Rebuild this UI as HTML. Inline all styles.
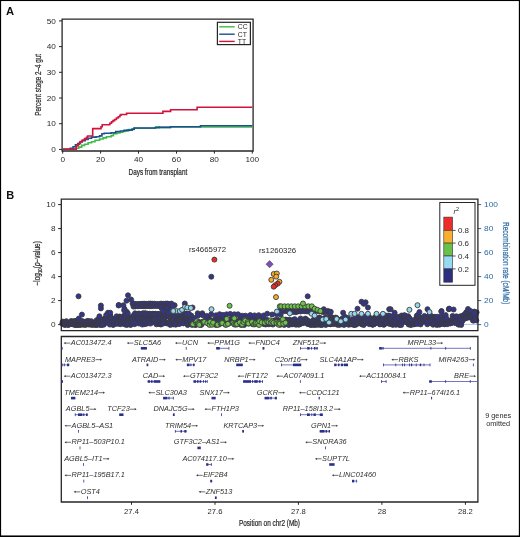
<!DOCTYPE html>
<html><head><meta charset="utf-8"><style>
html,body{margin:0;padding:0;background:#fff;}
svg{display:block;font-family:"Liberation Sans", sans-serif;will-change:transform;}
</style></head><body>
<svg width="520" height="537" viewBox="0 0 520 537">
<rect width="520" height="537" fill="#fff"/>
<text x="6.1" y="14.8" font-size="11.2" font-weight="bold" fill="#111">A</text>
<path d="M62.1,19.2 H253.1 V151.0 H62.1 Z" fill="none" stroke="#262626" stroke-width="1.3"/>
<line x1="59" y1="149.4" x2="62.1" y2="149.4" stroke="#262626" stroke-width="1"/>
<text x="51.33" y="152.15" font-size="7.9" textLength="4.57" lengthAdjust="spacingAndGlyphs" fill="#2a2a2a">0</text>
<line x1="59" y1="123.7" x2="62.1" y2="123.7" stroke="#262626" stroke-width="1"/>
<text x="46.76" y="126.45" font-size="7.9" textLength="9.14" lengthAdjust="spacingAndGlyphs" fill="#2a2a2a">10</text>
<line x1="59" y1="98.0" x2="62.1" y2="98.0" stroke="#262626" stroke-width="1"/>
<text x="46.76" y="100.75" font-size="7.9" textLength="9.14" lengthAdjust="spacingAndGlyphs" fill="#2a2a2a">20</text>
<line x1="59" y1="72.3" x2="62.1" y2="72.3" stroke="#262626" stroke-width="1"/>
<text x="46.76" y="75.05" font-size="7.9" textLength="9.14" lengthAdjust="spacingAndGlyphs" fill="#2a2a2a">30</text>
<line x1="59" y1="46.6" x2="62.1" y2="46.6" stroke="#262626" stroke-width="1"/>
<text x="46.76" y="49.35" font-size="7.9" textLength="9.14" lengthAdjust="spacingAndGlyphs" fill="#2a2a2a">40</text>
<line x1="59" y1="20.9" x2="62.1" y2="20.9" stroke="#262626" stroke-width="1"/>
<text x="46.76" y="23.65" font-size="7.9" textLength="9.14" lengthAdjust="spacingAndGlyphs" fill="#2a2a2a">50</text>
<line x1="62.7" y1="151.0" x2="62.7" y2="153.6" stroke="#262626" stroke-width="1"/>
<text x="60.42" y="162.20" font-size="7.9" textLength="4.57" lengthAdjust="spacingAndGlyphs" fill="#2a2a2a">0</text>
<line x1="100.6" y1="151.0" x2="100.6" y2="153.6" stroke="#262626" stroke-width="1"/>
<text x="96.05" y="162.20" font-size="7.9" textLength="9.14" lengthAdjust="spacingAndGlyphs" fill="#2a2a2a">20</text>
<line x1="138.5" y1="151.0" x2="138.5" y2="153.6" stroke="#262626" stroke-width="1"/>
<text x="133.97" y="162.20" font-size="7.9" textLength="9.14" lengthAdjust="spacingAndGlyphs" fill="#2a2a2a">40</text>
<line x1="176.5" y1="151.0" x2="176.5" y2="153.6" stroke="#262626" stroke-width="1"/>
<text x="171.89" y="162.20" font-size="7.9" textLength="9.14" lengthAdjust="spacingAndGlyphs" fill="#2a2a2a">60</text>
<line x1="214.4" y1="151.0" x2="214.4" y2="153.6" stroke="#262626" stroke-width="1"/>
<text x="209.81" y="162.20" font-size="7.9" textLength="9.14" lengthAdjust="spacingAndGlyphs" fill="#2a2a2a">80</text>
<line x1="252.3" y1="151.0" x2="252.3" y2="153.6" stroke="#262626" stroke-width="1"/>
<text x="245.45" y="162.20" font-size="7.9" textLength="13.71" lengthAdjust="spacingAndGlyphs" fill="#2a2a2a">100</text>
<text x="128.6" y="174.8" font-size="8.4" textLength="58.6" lengthAdjust="spacingAndGlyphs" fill="#2a2a2a" stroke="#2a2a2a" stroke-width="0.22">Days from transplant</text>
<text transform="translate(40.5,115.8) rotate(-90)" font-size="8.4" textLength="61.8" lengthAdjust="spacingAndGlyphs" fill="#2a2a2a" stroke="#2a2a2a" stroke-width="0.22">Percent stage 2–4 gut</text>
<path d="M62.7,149.2 H74.8 V148.2 H78.8 V147.1 H81.7 V145.4 H84.6 V144.2 H88.1 V142.8 H91.5 V141.7 H95 V140.2 H99.6 V139 H103.1 V137.9 H106.5 V136.7 H111.1 V135.6 H113.4 V133.8 H116.9 V132.9 H120 V132.2 H122.7 V131.5 H125 V131 H128.5 V129.5 H134 V128.3 H155.7 V126.8 H159 V127.4 H170.5 V127 H252.5" fill="none" stroke="#3dbb45" stroke-width="1.6"/>
<path d="M62.7,149.2 H70.2 V148.3 H73.1 V146.8 H75.4 V144.8 H77.7 V143.6 H80 V141.9 H82.3 V140.8 H85.2 V139.4 H88.1 V138.2 H91.5 V137.1 H96.1 V136.7 H99.6 V135.9 H101.9 V133.8 H104.2 V133.3 H111.1 V132.7 H115.7 V131.5 H120.4 V131 H124 V130.4 H126.7 V130.1 H132.1 V129.1 H134.1 V128 H155 V127.8 H159 V127.4 H170.5 V126.7 H200.5 V125.7 H252.5" fill="none" stroke="#1c4f91" stroke-width="1.6"/>
<path d="M62.7,149.2 H76.3 V146 H78 V144.5 H79.3 V143 H80.5 V141.5 H82.3 V140 H84.5 V138.6 H86.5 V137.2 H87.6 V136 H92.7 V128.6 H101 V126.8 H102.2 V124.8 H109.8 V123.2 H111.5 V121.8 H113 V120.6 H114.6 V119.5 H116.4 V118 H118.3 V116.8 H119.9 V115.2 H121 V114.5 H126.6 V113.3 H162.9 V111.4 H170.6 V109.8 H197.1 V107.2 H252.5" fill="none" stroke="#d2123a" stroke-width="1.6"/>
<rect x="217.4" y="22.3" width="33" height="22.3" fill="#fff" stroke="#262626" stroke-width="1.2"/>
<line x1="219.2" y1="26.8" x2="234.7" y2="26.8" stroke="#3dbb45" stroke-width="1.4"/>
<text x="237.8" y="29.2" font-size="6.8" fill="#2a2a2a">CC</text>
<line x1="219.2" y1="34.2" x2="234.7" y2="34.2" stroke="#1c4f91" stroke-width="1.4"/>
<text x="237.8" y="36.6" font-size="6.8" fill="#2a2a2a">CT</text>
<line x1="219.2" y1="41.4" x2="234.7" y2="41.4" stroke="#d2123a" stroke-width="1.4"/>
<text x="237.8" y="43.8" font-size="6.8" fill="#2a2a2a">TT</text>
<text x="6.3" y="199.3" font-size="11" font-weight="bold" fill="#111">B</text>
<line x1="58.1" y1="324.6" x2="61.3" y2="324.6" stroke="#262626" stroke-width="1"/>
<text x="50.93" y="327.35" font-size="7.9" textLength="4.57" lengthAdjust="spacingAndGlyphs" fill="#2a2a2a">0</text>
<line x1="58.1" y1="300.6" x2="61.3" y2="300.6" stroke="#262626" stroke-width="1"/>
<text x="50.93" y="303.35" font-size="7.9" textLength="4.57" lengthAdjust="spacingAndGlyphs" fill="#2a2a2a">2</text>
<line x1="58.1" y1="276.6" x2="61.3" y2="276.6" stroke="#262626" stroke-width="1"/>
<text x="50.93" y="279.35" font-size="7.9" textLength="4.57" lengthAdjust="spacingAndGlyphs" fill="#2a2a2a">4</text>
<line x1="58.1" y1="252.6" x2="61.3" y2="252.6" stroke="#262626" stroke-width="1"/>
<text x="50.93" y="255.35" font-size="7.9" textLength="4.57" lengthAdjust="spacingAndGlyphs" fill="#2a2a2a">6</text>
<line x1="58.1" y1="228.6" x2="61.3" y2="228.6" stroke="#262626" stroke-width="1"/>
<text x="50.93" y="231.35" font-size="7.9" textLength="4.57" lengthAdjust="spacingAndGlyphs" fill="#2a2a2a">8</text>
<line x1="58.1" y1="204.6" x2="61.3" y2="204.6" stroke="#262626" stroke-width="1"/>
<text x="46.36" y="207.35" font-size="7.9" textLength="9.14" lengthAdjust="spacingAndGlyphs" fill="#2a2a2a">10</text>
<line x1="477.9" y1="324.6" x2="481.2" y2="324.6" stroke="#2c6aa3" stroke-width="1"/>
<text x="484.00" y="327.35" font-size="7.9" textLength="4.66" lengthAdjust="spacingAndGlyphs" fill="#2c6aa3">0</text>
<line x1="477.9" y1="300.6" x2="481.2" y2="300.6" stroke="#2c6aa3" stroke-width="1"/>
<text x="484.00" y="303.35" font-size="7.9" textLength="9.31" lengthAdjust="spacingAndGlyphs" fill="#2c6aa3">20</text>
<line x1="477.9" y1="276.6" x2="481.2" y2="276.6" stroke="#2c6aa3" stroke-width="1"/>
<text x="484.00" y="279.35" font-size="7.9" textLength="9.31" lengthAdjust="spacingAndGlyphs" fill="#2c6aa3">40</text>
<line x1="477.9" y1="252.6" x2="481.2" y2="252.6" stroke="#2c6aa3" stroke-width="1"/>
<text x="484.00" y="255.35" font-size="7.9" textLength="9.31" lengthAdjust="spacingAndGlyphs" fill="#2c6aa3">60</text>
<line x1="477.9" y1="228.6" x2="481.2" y2="228.6" stroke="#2c6aa3" stroke-width="1"/>
<text x="484.00" y="231.35" font-size="7.9" textLength="9.31" lengthAdjust="spacingAndGlyphs" fill="#2c6aa3">80</text>
<line x1="477.9" y1="204.6" x2="481.2" y2="204.6" stroke="#2c6aa3" stroke-width="1"/>
<text x="484.00" y="207.35" font-size="7.9" textLength="13.97" lengthAdjust="spacingAndGlyphs" fill="#2c6aa3">100</text>
<text transform="translate(503.1,222) rotate(90)" font-size="9" textLength="82.4" lengthAdjust="spacingAndGlyphs" fill="#2c6aa3" stroke="#2c6aa3" stroke-width="0.22">Recombination rate (cM/Mb)</text>
<text transform="translate(40.0,285.4) rotate(-90)" font-size="8.4" textLength="44.2" lengthAdjust="spacingAndGlyphs" fill="#2a2a2a" stroke="#2a2a2a" stroke-width="0.22">−log<tspan font-size="5.6" dy="1.5">10</tspan><tspan dy="-1.5">(</tspan><tspan font-style="italic">p</tspan>−value)</text>
<path d="M61.3,324.4 H477.9" stroke="#94b6e4" stroke-width="0.8" fill="none"/>
<g stroke="#3b3b3b" stroke-width="0.9">
<circle cx="62.3" cy="323.6" r="2.5" fill="#34358e"/>
<circle cx="62.8" cy="321.6" r="2.5" fill="#34358e"/>
<circle cx="63.3" cy="323.4" r="2.5" fill="#34358e"/>
<circle cx="63.9" cy="324.6" r="2.5" fill="#34358e"/>
<circle cx="64.4" cy="322.9" r="2.5" fill="#34358e"/>
<circle cx="65.0" cy="324.8" r="2.5" fill="#34358e"/>
<circle cx="65.4" cy="324.8" r="2.5" fill="#34358e"/>
<circle cx="66.1" cy="322.6" r="2.5" fill="#34358e"/>
<circle cx="66.3" cy="321.2" r="2.5" fill="#34358e"/>
<circle cx="67.1" cy="322.8" r="2.5" fill="#34358e"/>
<circle cx="67.6" cy="324.6" r="2.5" fill="#34358e"/>
<circle cx="67.9" cy="323.3" r="2.5" fill="#34358e"/>
<circle cx="68.2" cy="324.5" r="2.5" fill="#34358e"/>
<circle cx="68.5" cy="325.0" r="2.5" fill="#34358e"/>
<circle cx="69.0" cy="323.6" r="2.5" fill="#34358e"/>
<circle cx="69.7" cy="323.3" r="2.5" fill="#34358e"/>
<circle cx="70.3" cy="323.4" r="2.5" fill="#34358e"/>
<circle cx="70.8" cy="323.6" r="2.5" fill="#34358e"/>
<circle cx="71.2" cy="321.0" r="2.5" fill="#34358e"/>
<circle cx="72.0" cy="321.8" r="2.5" fill="#34358e"/>
<circle cx="72.6" cy="324.1" r="2.5" fill="#34358e"/>
<circle cx="72.9" cy="324.2" r="2.5" fill="#34358e"/>
<circle cx="73.2" cy="322.1" r="2.5" fill="#34358e"/>
<circle cx="73.7" cy="321.7" r="2.5" fill="#34358e"/>
<circle cx="74.1" cy="321.2" r="2.5" fill="#34358e"/>
<circle cx="74.8" cy="325.0" r="2.5" fill="#34358e"/>
<circle cx="75.2" cy="321.4" r="2.5" fill="#34358e"/>
<circle cx="75.6" cy="321.0" r="2.5" fill="#34358e"/>
<circle cx="76.1" cy="324.9" r="2.5" fill="#34358e"/>
<circle cx="76.7" cy="322.0" r="2.5" fill="#34358e"/>
<circle cx="77.0" cy="324.8" r="2.5" fill="#34358e"/>
<circle cx="77.5" cy="321.1" r="2.5" fill="#34358e"/>
<circle cx="78.1" cy="324.7" r="2.5" fill="#34358e"/>
<circle cx="78.5" cy="324.8" r="2.5" fill="#34358e"/>
<circle cx="78.7" cy="321.9" r="2.5" fill="#34358e"/>
<circle cx="79.1" cy="323.0" r="2.5" fill="#34358e"/>
<circle cx="79.5" cy="324.5" r="2.5" fill="#34358e"/>
<circle cx="80.2" cy="324.7" r="2.5" fill="#34358e"/>
<circle cx="80.7" cy="324.7" r="2.5" fill="#34358e"/>
<circle cx="81.2" cy="324.4" r="2.5" fill="#34358e"/>
<circle cx="81.6" cy="320.9" r="2.5" fill="#34358e"/>
<circle cx="82.2" cy="324.1" r="2.5" fill="#34358e"/>
<circle cx="82.9" cy="324.4" r="2.5" fill="#34358e"/>
<circle cx="83.4" cy="321.5" r="2.5" fill="#34358e"/>
<circle cx="83.9" cy="324.8" r="2.5" fill="#34358e"/>
<circle cx="84.7" cy="324.4" r="2.5" fill="#34358e"/>
<circle cx="85.1" cy="321.9" r="2.5" fill="#34358e"/>
<circle cx="85.5" cy="324.1" r="2.5" fill="#34358e"/>
<circle cx="85.8" cy="324.8" r="2.5" fill="#34358e"/>
<circle cx="86.3" cy="324.3" r="2.5" fill="#34358e"/>
<circle cx="86.9" cy="323.8" r="2.5" fill="#34358e"/>
<circle cx="87.3" cy="320.9" r="2.5" fill="#34358e"/>
<circle cx="87.8" cy="322.9" r="2.5" fill="#34358e"/>
<circle cx="88.5" cy="324.5" r="2.5" fill="#34358e"/>
<circle cx="88.8" cy="321.1" r="2.5" fill="#34358e"/>
<circle cx="89.5" cy="324.3" r="2.5" fill="#34358e"/>
<circle cx="89.8" cy="322.0" r="2.5" fill="#34358e"/>
<circle cx="90.6" cy="324.5" r="2.5" fill="#34358e"/>
<circle cx="91.3" cy="321.2" r="2.5" fill="#34358e"/>
<circle cx="91.8" cy="323.6" r="2.5" fill="#34358e"/>
<circle cx="92.1" cy="324.9" r="2.5" fill="#34358e"/>
<circle cx="92.9" cy="324.3" r="2.5" fill="#34358e"/>
<circle cx="93.5" cy="324.2" r="2.5" fill="#34358e"/>
<circle cx="94.1" cy="322.7" r="2.5" fill="#34358e"/>
<circle cx="94.5" cy="324.5" r="2.5" fill="#34358e"/>
<circle cx="95.1" cy="324.9" r="2.5" fill="#34358e"/>
<circle cx="95.5" cy="322.8" r="2.5" fill="#34358e"/>
<circle cx="96.2" cy="322.3" r="2.5" fill="#34358e"/>
<circle cx="96.6" cy="320.2" r="2.5" fill="#34358e"/>
<circle cx="96.9" cy="325.0" r="2.5" fill="#34358e"/>
<circle cx="97.3" cy="323.0" r="2.5" fill="#34358e"/>
<circle cx="97.6" cy="324.4" r="2.5" fill="#34358e"/>
<circle cx="98.0" cy="322.1" r="2.5" fill="#34358e"/>
<circle cx="98.3" cy="323.3" r="2.5" fill="#34358e"/>
<circle cx="99.0" cy="318.6" r="2.5" fill="#34358e"/>
<circle cx="99.6" cy="320.7" r="2.5" fill="#34358e"/>
<circle cx="100.2" cy="324.4" r="2.5" fill="#34358e"/>
<circle cx="100.4" cy="325.0" r="2.5" fill="#34358e"/>
<circle cx="101.1" cy="320.1" r="2.5" fill="#34358e"/>
<circle cx="101.9" cy="324.9" r="2.5" fill="#34358e"/>
<circle cx="102.4" cy="321.8" r="2.5" fill="#34358e"/>
<circle cx="103.0" cy="323.0" r="2.5" fill="#34358e"/>
<circle cx="103.8" cy="324.7" r="2.5" fill="#34358e"/>
<circle cx="104.3" cy="318.8" r="2.5" fill="#34358e"/>
<circle cx="105.0" cy="318.8" r="2.5" fill="#34358e"/>
<circle cx="105.6" cy="318.1" r="2.5" fill="#34358e"/>
<circle cx="106.3" cy="322.6" r="2.5" fill="#34358e"/>
<circle cx="106.9" cy="316.8" r="2.5" fill="#34358e"/>
<circle cx="107.6" cy="322.0" r="2.5" fill="#34358e"/>
<circle cx="108.2" cy="317.2" r="2.5" fill="#34358e"/>
<circle cx="108.8" cy="319.9" r="2.5" fill="#34358e"/>
<circle cx="109.2" cy="320.3" r="2.5" fill="#34358e"/>
<circle cx="109.8" cy="324.6" r="2.5" fill="#34358e"/>
<circle cx="110.4" cy="315.6" r="2.5" fill="#34358e"/>
<circle cx="111.0" cy="318.7" r="2.5" fill="#34358e"/>
<circle cx="111.5" cy="318.6" r="2.5" fill="#34358e"/>
<circle cx="112.0" cy="321.7" r="2.5" fill="#34358e"/>
<circle cx="112.7" cy="324.6" r="2.5" fill="#34358e"/>
<circle cx="113.3" cy="324.9" r="2.5" fill="#34358e"/>
<circle cx="113.9" cy="321.3" r="2.5" fill="#34358e"/>
<circle cx="114.2" cy="318.9" r="2.5" fill="#34358e"/>
<circle cx="114.7" cy="319.8" r="2.5" fill="#34358e"/>
<circle cx="115.4" cy="323.3" r="2.5" fill="#34358e"/>
<circle cx="115.7" cy="322.9" r="2.5" fill="#34358e"/>
<circle cx="116.3" cy="323.8" r="2.5" fill="#34358e"/>
<circle cx="116.6" cy="316.3" r="2.5" fill="#34358e"/>
<circle cx="117.2" cy="321.6" r="2.5" fill="#34358e"/>
<circle cx="117.9" cy="322.7" r="2.5" fill="#34358e"/>
<circle cx="118.5" cy="323.8" r="2.5" fill="#34358e"/>
<circle cx="118.9" cy="317.5" r="2.5" fill="#34358e"/>
<circle cx="119.7" cy="316.5" r="2.5" fill="#34358e"/>
<circle cx="120.1" cy="320.0" r="2.5" fill="#34358e"/>
<circle cx="120.5" cy="324.2" r="2.5" fill="#34358e"/>
<circle cx="121.0" cy="317.0" r="2.5" fill="#34358e"/>
<circle cx="121.7" cy="318.5" r="2.5" fill="#34358e"/>
<circle cx="122.4" cy="323.1" r="2.5" fill="#34358e"/>
<circle cx="122.7" cy="321.4" r="2.5" fill="#34358e"/>
<circle cx="123.1" cy="323.6" r="2.5" fill="#34358e"/>
<circle cx="123.6" cy="319.4" r="2.5" fill="#34358e"/>
<circle cx="124.1" cy="322.7" r="2.5" fill="#34358e"/>
<circle cx="124.7" cy="315.0" r="2.5" fill="#34358e"/>
<circle cx="125.2" cy="324.6" r="2.5" fill="#34358e"/>
<circle cx="125.5" cy="316.4" r="2.5" fill="#34358e"/>
<circle cx="125.8" cy="318.4" r="2.5" fill="#34358e"/>
<circle cx="126.3" cy="322.8" r="2.5" fill="#34358e"/>
<circle cx="126.9" cy="324.9" r="2.5" fill="#34358e"/>
<circle cx="127.3" cy="321.3" r="2.5" fill="#34358e"/>
<circle cx="127.5" cy="316.8" r="2.5" fill="#34358e"/>
<circle cx="127.9" cy="324.2" r="2.5" fill="#34358e"/>
<circle cx="128.2" cy="319.3" r="2.5" fill="#34358e"/>
<circle cx="128.6" cy="319.3" r="2.5" fill="#34358e"/>
<circle cx="129.2" cy="317.0" r="2.5" fill="#34358e"/>
<circle cx="129.9" cy="318.6" r="2.5" fill="#34358e"/>
<circle cx="130.3" cy="321.0" r="2.5" fill="#34358e"/>
<circle cx="130.6" cy="325.0" r="2.5" fill="#34358e"/>
<circle cx="131.1" cy="318.2" r="2.5" fill="#34358e"/>
<circle cx="131.5" cy="323.0" r="2.5" fill="#34358e"/>
<circle cx="131.9" cy="318.3" r="2.5" fill="#34358e"/>
<circle cx="132.4" cy="319.3" r="2.5" fill="#34358e"/>
<circle cx="133.0" cy="321.8" r="2.5" fill="#34358e"/>
<circle cx="133.7" cy="315.6" r="2.5" fill="#34358e"/>
<circle cx="134.0" cy="315.2" r="2.5" fill="#34358e"/>
<circle cx="134.6" cy="324.2" r="2.5" fill="#34358e"/>
<circle cx="135.0" cy="319.2" r="2.5" fill="#34358e"/>
<circle cx="135.8" cy="322.0" r="2.5" fill="#34358e"/>
<circle cx="136.3" cy="315.9" r="2.5" fill="#34358e"/>
<circle cx="136.9" cy="315.0" r="2.5" fill="#34358e"/>
<circle cx="137.4" cy="318.9" r="2.5" fill="#34358e"/>
<circle cx="137.8" cy="318.0" r="2.5" fill="#34358e"/>
<circle cx="138.4" cy="319.0" r="2.5" fill="#34358e"/>
<circle cx="139.0" cy="323.6" r="2.5" fill="#34358e"/>
<circle cx="139.7" cy="314.5" r="2.5" fill="#34358e"/>
<circle cx="140.5" cy="320.2" r="2.5" fill="#34358e"/>
<circle cx="141.1" cy="322.6" r="2.5" fill="#34358e"/>
<circle cx="141.8" cy="316.2" r="2.5" fill="#34358e"/>
<circle cx="142.3" cy="324.6" r="2.5" fill="#34358e"/>
<circle cx="142.7" cy="320.0" r="2.5" fill="#34358e"/>
<circle cx="143.4" cy="320.8" r="2.5" fill="#34358e"/>
<circle cx="143.6" cy="316.8" r="2.5" fill="#34358e"/>
<circle cx="143.9" cy="316.9" r="2.5" fill="#34358e"/>
<circle cx="144.2" cy="322.4" r="2.5" fill="#34358e"/>
<circle cx="144.9" cy="324.2" r="2.5" fill="#34358e"/>
<circle cx="145.2" cy="320.4" r="2.5" fill="#34358e"/>
<circle cx="145.8" cy="316.4" r="2.5" fill="#34358e"/>
<circle cx="146.4" cy="315.0" r="2.5" fill="#34358e"/>
<circle cx="146.9" cy="314.9" r="2.5" fill="#34358e"/>
<circle cx="147.2" cy="323.5" r="2.5" fill="#34358e"/>
<circle cx="147.7" cy="322.8" r="2.5" fill="#34358e"/>
<circle cx="148.3" cy="319.0" r="2.5" fill="#34358e"/>
<circle cx="148.8" cy="316.3" r="2.5" fill="#34358e"/>
<circle cx="149.4" cy="322.6" r="2.5" fill="#34358e"/>
<circle cx="149.8" cy="316.3" r="2.5" fill="#34358e"/>
<circle cx="150.5" cy="323.6" r="2.5" fill="#34358e"/>
<circle cx="151.2" cy="314.6" r="2.5" fill="#34358e"/>
<circle cx="151.7" cy="319.7" r="2.5" fill="#34358e"/>
<circle cx="152.1" cy="320.2" r="2.5" fill="#34358e"/>
<circle cx="152.6" cy="319.4" r="2.5" fill="#34358e"/>
<circle cx="152.8" cy="314.6" r="2.5" fill="#34358e"/>
<circle cx="153.3" cy="321.7" r="2.5" fill="#34358e"/>
<circle cx="154.0" cy="319.9" r="2.5" fill="#34358e"/>
<circle cx="154.5" cy="318.3" r="2.5" fill="#34358e"/>
<circle cx="154.8" cy="320.1" r="2.5" fill="#34358e"/>
<circle cx="155.2" cy="314.7" r="2.5" fill="#34358e"/>
<circle cx="155.9" cy="323.0" r="2.5" fill="#34358e"/>
<circle cx="156.4" cy="324.3" r="2.5" fill="#34358e"/>
<circle cx="156.9" cy="316.7" r="2.5" fill="#34358e"/>
<circle cx="157.6" cy="320.9" r="2.5" fill="#34358e"/>
<circle cx="158.0" cy="323.7" r="2.5" fill="#34358e"/>
<circle cx="158.5" cy="315.2" r="2.5" fill="#34358e"/>
<circle cx="158.9" cy="317.1" r="2.5" fill="#34358e"/>
<circle cx="159.1" cy="323.7" r="2.5" fill="#34358e"/>
<circle cx="159.5" cy="318.3" r="2.5" fill="#34358e"/>
<circle cx="159.9" cy="322.2" r="2.5" fill="#34358e"/>
<circle cx="160.5" cy="324.4" r="2.5" fill="#34358e"/>
<circle cx="161.1" cy="324.3" r="2.5" fill="#34358e"/>
<circle cx="161.6" cy="323.2" r="2.5" fill="#34358e"/>
<circle cx="161.9" cy="320.2" r="2.5" fill="#34358e"/>
<circle cx="162.4" cy="321.9" r="2.5" fill="#34358e"/>
<circle cx="162.8" cy="320.2" r="2.5" fill="#34358e"/>
<circle cx="163.2" cy="323.6" r="2.5" fill="#34358e"/>
<circle cx="163.7" cy="318.9" r="2.5" fill="#34358e"/>
<circle cx="164.3" cy="316.1" r="2.5" fill="#34358e"/>
<circle cx="164.8" cy="316.1" r="2.5" fill="#34358e"/>
<circle cx="165.2" cy="317.6" r="2.5" fill="#34358e"/>
<circle cx="165.8" cy="315.4" r="2.5" fill="#34358e"/>
<circle cx="166.2" cy="322.6" r="2.5" fill="#34358e"/>
<circle cx="167.0" cy="323.5" r="2.5" fill="#34358e"/>
<circle cx="167.7" cy="315.6" r="2.5" fill="#34358e"/>
<circle cx="168.0" cy="323.3" r="2.5" fill="#34358e"/>
<circle cx="168.6" cy="323.1" r="2.5" fill="#34358e"/>
<circle cx="168.9" cy="316.4" r="2.5" fill="#34358e"/>
<circle cx="169.4" cy="316.9" r="2.5" fill="#34358e"/>
<circle cx="169.7" cy="321.6" r="2.5" fill="#34358e"/>
<circle cx="170.3" cy="324.9" r="2.5" fill="#34358e"/>
<circle cx="170.7" cy="318.3" r="2.5" fill="#34358e"/>
<circle cx="171.4" cy="314.5" r="2.5" fill="#34358e"/>
<circle cx="171.7" cy="320.5" r="2.5" fill="#34358e"/>
<circle cx="172.3" cy="320.5" r="2.5" fill="#34358e"/>
<circle cx="172.9" cy="323.7" r="2.5" fill="#34358e"/>
<circle cx="173.2" cy="324.4" r="2.5" fill="#34358e"/>
<circle cx="173.4" cy="319.9" r="2.5" fill="#34358e"/>
<circle cx="173.9" cy="319.7" r="2.5" fill="#34358e"/>
<circle cx="174.3" cy="323.8" r="2.5" fill="#34358e"/>
<circle cx="174.6" cy="316.2" r="2.5" fill="#34358e"/>
<circle cx="175.4" cy="315.1" r="2.5" fill="#34358e"/>
<circle cx="175.7" cy="324.7" r="2.5" fill="#34358e"/>
<circle cx="176.4" cy="321.1" r="2.5" fill="#34358e"/>
<circle cx="177.0" cy="322.5" r="2.5" fill="#34358e"/>
<circle cx="177.5" cy="320.6" r="2.5" fill="#34358e"/>
<circle cx="178.0" cy="319.7" r="2.5" fill="#34358e"/>
<circle cx="178.2" cy="318.5" r="2.5" fill="#34358e"/>
<circle cx="178.9" cy="323.9" r="2.5" fill="#34358e"/>
<circle cx="179.4" cy="318.3" r="2.5" fill="#34358e"/>
<circle cx="179.8" cy="323.8" r="2.5" fill="#34358e"/>
<circle cx="180.2" cy="320.9" r="2.5" fill="#34358e"/>
<circle cx="180.4" cy="316.6" r="2.5" fill="#34358e"/>
<circle cx="181.1" cy="318.9" r="2.5" fill="#34358e"/>
<circle cx="181.8" cy="319.8" r="2.5" fill="#34358e"/>
<circle cx="182.2" cy="320.2" r="2.5" fill="#34358e"/>
<circle cx="182.7" cy="316.0" r="2.5" fill="#34358e"/>
<circle cx="183.4" cy="323.4" r="2.5" fill="#34358e"/>
<circle cx="184.1" cy="319.0" r="2.5" fill="#34358e"/>
<circle cx="184.7" cy="318.3" r="2.5" fill="#34358e"/>
<circle cx="185.2" cy="317.5" r="2.5" fill="#34358e"/>
<circle cx="185.8" cy="319.7" r="2.5" fill="#34358e"/>
<circle cx="186.5" cy="319.1" r="2.5" fill="#34358e"/>
<circle cx="186.9" cy="319.6" r="2.5" fill="#34358e"/>
<circle cx="187.2" cy="323.0" r="2.5" fill="#34358e"/>
<circle cx="187.7" cy="325.0" r="2.5" fill="#34358e"/>
<circle cx="188.1" cy="320.6" r="2.5" fill="#34358e"/>
<circle cx="188.7" cy="323.8" r="2.5" fill="#34358e"/>
<circle cx="189.4" cy="320.5" r="2.5" fill="#34358e"/>
<circle cx="189.8" cy="320.6" r="2.5" fill="#34358e"/>
<circle cx="190.4" cy="321.7" r="2.5" fill="#34358e"/>
<circle cx="190.8" cy="317.7" r="2.5" fill="#34358e"/>
<circle cx="191.4" cy="320.5" r="2.5" fill="#34358e"/>
<circle cx="192.1" cy="324.9" r="2.5" fill="#34358e"/>
<circle cx="193.3" cy="323.8" r="2.5" fill="#34358e"/>
<circle cx="193.8" cy="322.1" r="2.5" fill="#34358e"/>
<circle cx="194.4" cy="318.0" r="2.5" fill="#34358e"/>
<circle cx="195.0" cy="324.8" r="2.5" fill="#34358e"/>
<circle cx="195.7" cy="324.9" r="2.5" fill="#34358e"/>
<circle cx="197.2" cy="322.7" r="2.5" fill="#34358e"/>
<circle cx="198.3" cy="321.7" r="2.5" fill="#34358e"/>
<circle cx="199.9" cy="322.9" r="2.5" fill="#34358e"/>
<circle cx="200.6" cy="324.9" r="2.5" fill="#34358e"/>
<circle cx="201.3" cy="324.8" r="2.5" fill="#34358e"/>
<circle cx="201.8" cy="322.3" r="2.5" fill="#34358e"/>
<circle cx="202.1" cy="322.0" r="2.5" fill="#34358e"/>
<circle cx="202.7" cy="322.4" r="2.5" fill="#34358e"/>
<circle cx="204.7" cy="320.9" r="2.5" fill="#34358e"/>
<circle cx="205.1" cy="321.5" r="2.5" fill="#34358e"/>
<circle cx="205.7" cy="321.9" r="2.5" fill="#34358e"/>
<circle cx="206.5" cy="320.3" r="2.5" fill="#34358e"/>
<circle cx="206.8" cy="319.0" r="2.5" fill="#34358e"/>
<circle cx="207.9" cy="321.7" r="2.5" fill="#34358e"/>
<circle cx="208.5" cy="320.2" r="2.5" fill="#34358e"/>
<circle cx="208.9" cy="318.2" r="2.5" fill="#34358e"/>
<circle cx="209.9" cy="322.7" r="2.5" fill="#34358e"/>
<circle cx="210.5" cy="320.8" r="2.5" fill="#34358e"/>
<circle cx="211.1" cy="323.1" r="2.5" fill="#34358e"/>
<circle cx="211.4" cy="323.3" r="2.5" fill="#34358e"/>
<circle cx="212.8" cy="321.2" r="2.5" fill="#34358e"/>
<circle cx="213.8" cy="323.1" r="2.5" fill="#34358e"/>
<circle cx="214.5" cy="323.4" r="2.5" fill="#34358e"/>
<circle cx="215.2" cy="318.7" r="2.5" fill="#34358e"/>
<circle cx="215.6" cy="324.7" r="2.5" fill="#34358e"/>
<circle cx="215.9" cy="324.7" r="2.5" fill="#34358e"/>
<circle cx="216.4" cy="320.7" r="2.5" fill="#34358e"/>
<circle cx="218.2" cy="320.6" r="2.5" fill="#34358e"/>
<circle cx="218.5" cy="323.2" r="2.5" fill="#34358e"/>
<circle cx="219.0" cy="324.6" r="2.5" fill="#34358e"/>
<circle cx="219.5" cy="318.7" r="2.5" fill="#34358e"/>
<circle cx="220.2" cy="322.6" r="2.5" fill="#34358e"/>
<circle cx="221.3" cy="318.9" r="2.5" fill="#34358e"/>
<circle cx="222.7" cy="319.8" r="2.5" fill="#34358e"/>
<circle cx="223.4" cy="321.7" r="2.5" fill="#34358e"/>
<circle cx="224.0" cy="319.1" r="2.5" fill="#34358e"/>
<circle cx="224.3" cy="322.0" r="2.5" fill="#34358e"/>
<circle cx="224.8" cy="318.3" r="2.5" fill="#34358e"/>
<circle cx="225.5" cy="324.8" r="2.5" fill="#34358e"/>
<circle cx="227.3" cy="324.4" r="2.5" fill="#34358e"/>
<circle cx="228.5" cy="322.0" r="2.5" fill="#34358e"/>
<circle cx="229.0" cy="323.3" r="2.5" fill="#34358e"/>
<circle cx="229.5" cy="322.2" r="2.5" fill="#34358e"/>
<circle cx="230.2" cy="320.5" r="2.5" fill="#34358e"/>
<circle cx="230.6" cy="319.5" r="2.5" fill="#34358e"/>
<circle cx="231.3" cy="319.7" r="2.5" fill="#34358e"/>
<circle cx="232.0" cy="318.4" r="2.5" fill="#34358e"/>
<circle cx="232.5" cy="320.5" r="2.5" fill="#34358e"/>
<circle cx="233.6" cy="318.1" r="2.5" fill="#34358e"/>
<circle cx="234.7" cy="324.6" r="2.5" fill="#34358e"/>
<circle cx="235.8" cy="321.6" r="2.5" fill="#34358e"/>
<circle cx="236.4" cy="324.0" r="2.5" fill="#34358e"/>
<circle cx="237.4" cy="324.3" r="2.5" fill="#34358e"/>
<circle cx="237.8" cy="321.9" r="2.5" fill="#34358e"/>
<circle cx="238.3" cy="323.8" r="2.5" fill="#34358e"/>
<circle cx="239.0" cy="323.3" r="2.5" fill="#34358e"/>
<circle cx="240.0" cy="318.6" r="2.5" fill="#34358e"/>
<circle cx="240.4" cy="322.0" r="2.5" fill="#34358e"/>
<circle cx="240.8" cy="318.3" r="2.5" fill="#34358e"/>
<circle cx="241.2" cy="325.0" r="2.5" fill="#34358e"/>
<circle cx="241.6" cy="319.9" r="2.5" fill="#34358e"/>
<circle cx="242.6" cy="323.8" r="2.5" fill="#34358e"/>
<circle cx="243.1" cy="321.2" r="2.5" fill="#34358e"/>
<circle cx="244.1" cy="325.0" r="2.5" fill="#34358e"/>
<circle cx="245.7" cy="322.5" r="2.5" fill="#34358e"/>
<circle cx="246.2" cy="319.5" r="2.5" fill="#34358e"/>
<circle cx="246.9" cy="322.9" r="2.5" fill="#34358e"/>
<circle cx="247.1" cy="319.8" r="2.5" fill="#34358e"/>
<circle cx="248.6" cy="323.6" r="2.5" fill="#34358e"/>
<circle cx="249.2" cy="323.2" r="2.5" fill="#34358e"/>
<circle cx="249.5" cy="323.0" r="2.5" fill="#34358e"/>
<circle cx="250.3" cy="319.8" r="2.5" fill="#34358e"/>
<circle cx="250.5" cy="323.1" r="2.5" fill="#34358e"/>
<circle cx="250.9" cy="321.9" r="2.5" fill="#34358e"/>
<circle cx="251.1" cy="318.5" r="2.5" fill="#34358e"/>
<circle cx="251.5" cy="321.5" r="2.5" fill="#34358e"/>
<circle cx="252.4" cy="323.0" r="2.5" fill="#34358e"/>
<circle cx="252.7" cy="324.2" r="2.5" fill="#34358e"/>
<circle cx="253.2" cy="318.9" r="2.5" fill="#34358e"/>
<circle cx="253.8" cy="323.4" r="2.5" fill="#34358e"/>
<circle cx="254.6" cy="320.8" r="2.5" fill="#34358e"/>
<circle cx="255.1" cy="319.8" r="2.5" fill="#34358e"/>
<circle cx="256.4" cy="322.8" r="2.5" fill="#34358e"/>
<circle cx="257.0" cy="320.4" r="2.5" fill="#34358e"/>
<circle cx="257.7" cy="323.0" r="2.5" fill="#34358e"/>
<circle cx="258.4" cy="320.2" r="2.5" fill="#34358e"/>
<circle cx="259.8" cy="322.3" r="2.5" fill="#34358e"/>
<circle cx="260.5" cy="321.6" r="2.5" fill="#34358e"/>
<circle cx="261.1" cy="319.4" r="2.5" fill="#34358e"/>
<circle cx="262.2" cy="318.7" r="2.5" fill="#34358e"/>
<circle cx="262.8" cy="319.9" r="2.5" fill="#34358e"/>
<circle cx="263.5" cy="321.5" r="2.5" fill="#34358e"/>
<circle cx="263.8" cy="324.0" r="2.5" fill="#34358e"/>
<circle cx="264.4" cy="323.5" r="2.5" fill="#34358e"/>
<circle cx="265.6" cy="324.5" r="2.5" fill="#34358e"/>
<circle cx="266.1" cy="322.0" r="2.5" fill="#34358e"/>
<circle cx="266.5" cy="319.4" r="2.5" fill="#34358e"/>
<circle cx="267.8" cy="323.7" r="2.5" fill="#34358e"/>
<circle cx="268.2" cy="321.9" r="2.5" fill="#34358e"/>
<circle cx="268.8" cy="324.3" r="2.5" fill="#34358e"/>
<circle cx="269.5" cy="321.4" r="2.5" fill="#34358e"/>
<circle cx="270.1" cy="320.8" r="2.5" fill="#34358e"/>
<circle cx="271.4" cy="322.0" r="2.5" fill="#34358e"/>
<circle cx="271.9" cy="323.9" r="2.5" fill="#34358e"/>
<circle cx="272.9" cy="324.5" r="2.5" fill="#34358e"/>
<circle cx="274.0" cy="321.2" r="2.5" fill="#34358e"/>
<circle cx="274.7" cy="322.6" r="2.5" fill="#34358e"/>
<circle cx="275.3" cy="320.0" r="2.5" fill="#34358e"/>
<circle cx="275.8" cy="322.1" r="2.5" fill="#34358e"/>
<circle cx="277.6" cy="319.7" r="2.5" fill="#34358e"/>
<circle cx="278.2" cy="320.8" r="2.5" fill="#34358e"/>
<circle cx="279.5" cy="321.2" r="2.5" fill="#34358e"/>
<circle cx="280.2" cy="324.8" r="2.5" fill="#34358e"/>
<circle cx="280.9" cy="321.4" r="2.5" fill="#34358e"/>
<circle cx="281.4" cy="320.4" r="2.5" fill="#34358e"/>
<circle cx="282.0" cy="322.1" r="2.5" fill="#34358e"/>
<circle cx="283.5" cy="319.8" r="2.5" fill="#34358e"/>
<circle cx="283.9" cy="323.4" r="2.5" fill="#34358e"/>
<circle cx="284.2" cy="324.9" r="2.5" fill="#34358e"/>
<circle cx="284.6" cy="322.6" r="2.5" fill="#34358e"/>
<circle cx="285.8" cy="319.6" r="2.5" fill="#34358e"/>
<circle cx="286.1" cy="320.2" r="2.5" fill="#34358e"/>
<circle cx="286.5" cy="322.7" r="2.5" fill="#34358e"/>
<circle cx="286.9" cy="319.9" r="2.5" fill="#34358e"/>
<circle cx="287.6" cy="324.2" r="2.5" fill="#34358e"/>
<circle cx="288.2" cy="324.3" r="2.5" fill="#34358e"/>
<circle cx="288.9" cy="324.9" r="2.5" fill="#34358e"/>
<circle cx="289.2" cy="320.9" r="2.5" fill="#34358e"/>
<circle cx="289.6" cy="319.6" r="2.5" fill="#34358e"/>
<circle cx="290.3" cy="321.0" r="2.5" fill="#34358e"/>
<circle cx="290.6" cy="321.1" r="2.5" fill="#34358e"/>
<circle cx="291.3" cy="322.8" r="2.5" fill="#34358e"/>
<circle cx="291.6" cy="324.1" r="2.5" fill="#34358e"/>
<circle cx="292.0" cy="321.0" r="2.5" fill="#34358e"/>
<circle cx="292.3" cy="324.3" r="2.5" fill="#34358e"/>
<circle cx="292.7" cy="321.3" r="2.5" fill="#34358e"/>
<circle cx="293.4" cy="323.2" r="2.5" fill="#34358e"/>
<circle cx="293.9" cy="319.6" r="2.5" fill="#34358e"/>
<circle cx="294.5" cy="324.1" r="2.5" fill="#34358e"/>
<circle cx="294.9" cy="319.2" r="2.5" fill="#34358e"/>
<circle cx="295.5" cy="323.8" r="2.5" fill="#34358e"/>
<circle cx="296.0" cy="324.7" r="2.5" fill="#34358e"/>
<circle cx="296.8" cy="322.8" r="2.5" fill="#34358e"/>
<circle cx="297.3" cy="322.2" r="2.5" fill="#34358e"/>
<circle cx="297.6" cy="321.7" r="2.5" fill="#34358e"/>
<circle cx="298.0" cy="323.9" r="2.5" fill="#34358e"/>
<circle cx="298.6" cy="324.7" r="2.5" fill="#34358e"/>
<circle cx="299.0" cy="320.4" r="2.5" fill="#34358e"/>
<circle cx="299.4" cy="323.7" r="2.5" fill="#34358e"/>
<circle cx="299.9" cy="324.3" r="2.5" fill="#34358e"/>
<circle cx="300.6" cy="318.5" r="2.5" fill="#34358e"/>
<circle cx="300.9" cy="322.6" r="2.5" fill="#34358e"/>
<circle cx="301.5" cy="323.1" r="2.5" fill="#34358e"/>
<circle cx="302.2" cy="322.3" r="2.5" fill="#34358e"/>
<circle cx="302.5" cy="321.9" r="2.5" fill="#34358e"/>
<circle cx="303.1" cy="323.2" r="2.5" fill="#34358e"/>
<circle cx="303.7" cy="320.1" r="2.5" fill="#34358e"/>
<circle cx="304.2" cy="322.2" r="2.5" fill="#34358e"/>
<circle cx="304.9" cy="320.9" r="2.5" fill="#34358e"/>
<circle cx="305.4" cy="318.6" r="2.5" fill="#34358e"/>
<circle cx="305.7" cy="320.1" r="2.5" fill="#34358e"/>
<circle cx="306.1" cy="321.4" r="2.5" fill="#34358e"/>
<circle cx="306.4" cy="322.6" r="2.5" fill="#34358e"/>
<circle cx="307.1" cy="320.0" r="2.5" fill="#34358e"/>
<circle cx="307.7" cy="323.9" r="2.5" fill="#34358e"/>
<circle cx="308.2" cy="324.0" r="2.5" fill="#34358e"/>
<circle cx="308.7" cy="322.2" r="2.5" fill="#34358e"/>
<circle cx="309.0" cy="321.4" r="2.5" fill="#34358e"/>
<circle cx="309.6" cy="321.6" r="2.5" fill="#34358e"/>
<circle cx="310.3" cy="324.2" r="2.5" fill="#34358e"/>
<circle cx="310.6" cy="325.0" r="2.5" fill="#34358e"/>
<circle cx="311.1" cy="322.6" r="2.5" fill="#34358e"/>
<circle cx="311.6" cy="323.8" r="2.5" fill="#34358e"/>
<circle cx="312.2" cy="324.8" r="2.5" fill="#34358e"/>
<circle cx="313.0" cy="321.6" r="2.5" fill="#34358e"/>
<circle cx="313.5" cy="319.7" r="2.5" fill="#34358e"/>
<circle cx="313.8" cy="324.4" r="2.5" fill="#34358e"/>
<circle cx="314.2" cy="324.9" r="2.5" fill="#34358e"/>
<circle cx="314.7" cy="321.1" r="2.5" fill="#34358e"/>
<circle cx="315.2" cy="323.7" r="2.5" fill="#34358e"/>
<circle cx="315.7" cy="324.7" r="2.5" fill="#34358e"/>
<circle cx="316.4" cy="324.3" r="2.5" fill="#34358e"/>
<circle cx="316.7" cy="324.3" r="2.5" fill="#34358e"/>
<circle cx="317.3" cy="319.3" r="2.5" fill="#34358e"/>
<circle cx="318.0" cy="324.8" r="2.5" fill="#34358e"/>
<circle cx="318.4" cy="323.0" r="2.5" fill="#34358e"/>
<circle cx="318.8" cy="317.9" r="2.5" fill="#34358e"/>
<circle cx="319.1" cy="322.1" r="2.5" fill="#34358e"/>
<circle cx="319.7" cy="317.7" r="2.5" fill="#34358e"/>
<circle cx="320.0" cy="322.3" r="2.5" fill="#34358e"/>
<circle cx="320.6" cy="324.9" r="2.5" fill="#34358e"/>
<circle cx="321.0" cy="318.6" r="2.5" fill="#34358e"/>
<circle cx="321.3" cy="322.8" r="2.5" fill="#34358e"/>
<circle cx="321.7" cy="322.5" r="2.5" fill="#34358e"/>
<circle cx="322.0" cy="324.9" r="2.5" fill="#34358e"/>
<circle cx="322.8" cy="319.7" r="2.5" fill="#34358e"/>
<circle cx="323.4" cy="323.9" r="2.5" fill="#34358e"/>
<circle cx="323.8" cy="321.5" r="2.5" fill="#34358e"/>
<circle cx="324.1" cy="322.2" r="2.5" fill="#34358e"/>
<circle cx="324.9" cy="323.0" r="2.5" fill="#34358e"/>
<circle cx="325.3" cy="317.6" r="2.5" fill="#34358e"/>
<circle cx="325.8" cy="324.9" r="2.5" fill="#34358e"/>
<circle cx="326.3" cy="320.6" r="2.5" fill="#34358e"/>
<circle cx="326.6" cy="323.1" r="2.5" fill="#34358e"/>
<circle cx="327.2" cy="318.6" r="2.5" fill="#34358e"/>
<circle cx="327.7" cy="318.4" r="2.5" fill="#34358e"/>
<circle cx="328.2" cy="322.7" r="2.5" fill="#34358e"/>
<circle cx="328.9" cy="322.8" r="2.5" fill="#34358e"/>
<circle cx="329.5" cy="323.9" r="2.5" fill="#34358e"/>
<circle cx="329.9" cy="324.1" r="2.5" fill="#34358e"/>
<circle cx="330.4" cy="324.3" r="2.5" fill="#34358e"/>
<circle cx="330.8" cy="323.9" r="2.5" fill="#34358e"/>
<circle cx="331.3" cy="323.3" r="2.5" fill="#34358e"/>
<circle cx="331.8" cy="317.2" r="2.5" fill="#34358e"/>
<circle cx="332.3" cy="318.5" r="2.5" fill="#34358e"/>
<circle cx="332.7" cy="322.7" r="2.5" fill="#34358e"/>
<circle cx="333.0" cy="320.1" r="2.5" fill="#34358e"/>
<circle cx="333.4" cy="323.5" r="2.5" fill="#34358e"/>
<circle cx="333.7" cy="324.1" r="2.5" fill="#34358e"/>
<circle cx="334.1" cy="322.6" r="2.5" fill="#34358e"/>
<circle cx="334.8" cy="319.8" r="2.5" fill="#34358e"/>
<circle cx="335.1" cy="322.9" r="2.5" fill="#34358e"/>
<circle cx="335.5" cy="317.6" r="2.5" fill="#34358e"/>
<circle cx="335.9" cy="319.3" r="2.5" fill="#34358e"/>
<circle cx="336.5" cy="317.9" r="2.5" fill="#34358e"/>
<circle cx="336.8" cy="323.2" r="2.5" fill="#34358e"/>
<circle cx="337.2" cy="324.7" r="2.5" fill="#34358e"/>
<circle cx="337.9" cy="323.1" r="2.5" fill="#34358e"/>
<circle cx="338.5" cy="321.5" r="2.5" fill="#34358e"/>
<circle cx="338.8" cy="322.6" r="2.5" fill="#34358e"/>
<circle cx="339.2" cy="324.9" r="2.5" fill="#34358e"/>
<circle cx="339.5" cy="320.8" r="2.5" fill="#34358e"/>
<circle cx="339.8" cy="323.2" r="2.5" fill="#34358e"/>
<circle cx="340.2" cy="321.3" r="2.5" fill="#34358e"/>
<circle cx="340.6" cy="319.8" r="2.5" fill="#34358e"/>
<circle cx="340.9" cy="319.6" r="2.5" fill="#34358e"/>
<circle cx="341.5" cy="324.3" r="2.5" fill="#34358e"/>
<circle cx="341.9" cy="323.4" r="2.5" fill="#34358e"/>
<circle cx="342.5" cy="322.4" r="2.5" fill="#34358e"/>
<circle cx="342.9" cy="318.1" r="2.5" fill="#34358e"/>
<circle cx="343.3" cy="323.3" r="2.5" fill="#34358e"/>
<circle cx="343.7" cy="323.9" r="2.5" fill="#34358e"/>
<circle cx="344.0" cy="324.9" r="2.5" fill="#34358e"/>
<circle cx="344.6" cy="321.0" r="2.5" fill="#34358e"/>
<circle cx="345.2" cy="316.9" r="2.5" fill="#34358e"/>
<circle cx="345.6" cy="320.0" r="2.5" fill="#34358e"/>
<circle cx="346.3" cy="323.9" r="2.5" fill="#34358e"/>
<circle cx="346.9" cy="320.0" r="2.5" fill="#34358e"/>
<circle cx="347.6" cy="318.0" r="2.5" fill="#34358e"/>
<circle cx="348.0" cy="320.4" r="2.5" fill="#34358e"/>
<circle cx="348.3" cy="322.2" r="2.5" fill="#34358e"/>
<circle cx="348.7" cy="324.8" r="2.5" fill="#34358e"/>
<circle cx="349.2" cy="323.0" r="2.5" fill="#34358e"/>
<circle cx="349.7" cy="323.4" r="2.5" fill="#34358e"/>
<circle cx="350.0" cy="322.4" r="2.5" fill="#34358e"/>
<circle cx="350.5" cy="324.2" r="2.5" fill="#34358e"/>
<circle cx="351.1" cy="323.7" r="2.5" fill="#34358e"/>
<circle cx="351.4" cy="322.9" r="2.5" fill="#34358e"/>
<circle cx="351.8" cy="324.3" r="2.5" fill="#34358e"/>
<circle cx="352.4" cy="319.6" r="2.5" fill="#34358e"/>
<circle cx="352.9" cy="319.6" r="2.5" fill="#34358e"/>
<circle cx="353.2" cy="322.5" r="2.5" fill="#34358e"/>
<circle cx="353.6" cy="324.8" r="2.5" fill="#34358e"/>
<circle cx="354.1" cy="324.8" r="2.5" fill="#34358e"/>
<circle cx="354.6" cy="320.7" r="2.5" fill="#34358e"/>
<circle cx="355.0" cy="323.0" r="2.5" fill="#34358e"/>
<circle cx="355.4" cy="324.9" r="2.5" fill="#34358e"/>
<circle cx="355.8" cy="317.5" r="2.5" fill="#34358e"/>
<circle cx="356.4" cy="323.5" r="2.5" fill="#34358e"/>
<circle cx="357.0" cy="324.0" r="2.5" fill="#34358e"/>
<circle cx="357.4" cy="320.3" r="2.5" fill="#34358e"/>
<circle cx="358.2" cy="322.7" r="2.5" fill="#34358e"/>
<circle cx="358.7" cy="316.9" r="2.5" fill="#34358e"/>
<circle cx="359.3" cy="320.2" r="2.5" fill="#34358e"/>
<circle cx="359.9" cy="322.2" r="2.5" fill="#34358e"/>
<circle cx="360.4" cy="323.3" r="2.5" fill="#34358e"/>
<circle cx="361.0" cy="317.5" r="2.5" fill="#34358e"/>
<circle cx="361.5" cy="317.1" r="2.5" fill="#34358e"/>
<circle cx="361.7" cy="324.3" r="2.5" fill="#34358e"/>
<circle cx="362.2" cy="323.1" r="2.5" fill="#34358e"/>
<circle cx="362.7" cy="316.3" r="2.5" fill="#34358e"/>
<circle cx="363.0" cy="324.0" r="2.5" fill="#34358e"/>
<circle cx="363.4" cy="319.6" r="2.5" fill="#34358e"/>
<circle cx="363.7" cy="325.0" r="2.5" fill="#34358e"/>
<circle cx="364.2" cy="322.3" r="2.5" fill="#34358e"/>
<circle cx="364.6" cy="321.4" r="2.5" fill="#34358e"/>
<circle cx="365.2" cy="320.9" r="2.5" fill="#34358e"/>
<circle cx="365.8" cy="320.7" r="2.5" fill="#34358e"/>
<circle cx="366.4" cy="316.3" r="2.5" fill="#34358e"/>
<circle cx="366.8" cy="322.7" r="2.5" fill="#34358e"/>
<circle cx="367.5" cy="323.0" r="2.5" fill="#34358e"/>
<circle cx="368.1" cy="319.3" r="2.5" fill="#34358e"/>
<circle cx="368.7" cy="316.3" r="2.5" fill="#34358e"/>
<circle cx="369.4" cy="324.2" r="2.5" fill="#34358e"/>
<circle cx="370.0" cy="321.4" r="2.5" fill="#34358e"/>
<circle cx="370.5" cy="322.5" r="2.5" fill="#34358e"/>
<circle cx="370.9" cy="318.7" r="2.5" fill="#34358e"/>
<circle cx="371.4" cy="323.6" r="2.5" fill="#34358e"/>
<circle cx="371.8" cy="322.9" r="2.5" fill="#34358e"/>
<circle cx="372.1" cy="321.1" r="2.5" fill="#34358e"/>
<circle cx="372.4" cy="324.7" r="2.5" fill="#34358e"/>
<circle cx="372.7" cy="324.5" r="2.5" fill="#34358e"/>
<circle cx="373.3" cy="324.5" r="2.5" fill="#34358e"/>
<circle cx="373.8" cy="318.4" r="2.5" fill="#34358e"/>
<circle cx="374.3" cy="324.1" r="2.5" fill="#34358e"/>
<circle cx="375.0" cy="317.2" r="2.5" fill="#34358e"/>
<circle cx="375.2" cy="323.4" r="2.5" fill="#34358e"/>
<circle cx="375.7" cy="318.0" r="2.5" fill="#34358e"/>
<circle cx="376.2" cy="318.9" r="2.5" fill="#34358e"/>
<circle cx="376.6" cy="318.9" r="2.5" fill="#34358e"/>
<circle cx="377.0" cy="322.7" r="2.5" fill="#34358e"/>
<circle cx="377.6" cy="317.5" r="2.5" fill="#34358e"/>
<circle cx="378.3" cy="320.5" r="2.5" fill="#34358e"/>
<circle cx="378.7" cy="319.0" r="2.5" fill="#34358e"/>
<circle cx="379.3" cy="317.6" r="2.5" fill="#34358e"/>
<circle cx="379.9" cy="324.4" r="2.5" fill="#34358e"/>
<circle cx="380.4" cy="319.4" r="2.5" fill="#34358e"/>
<circle cx="380.7" cy="323.9" r="2.5" fill="#34358e"/>
<circle cx="381.0" cy="320.2" r="2.5" fill="#34358e"/>
<circle cx="381.7" cy="315.8" r="2.5" fill="#34358e"/>
<circle cx="382.0" cy="319.1" r="2.5" fill="#34358e"/>
<circle cx="382.5" cy="319.7" r="2.5" fill="#34358e"/>
<circle cx="382.9" cy="316.2" r="2.5" fill="#34358e"/>
<circle cx="383.7" cy="324.8" r="2.5" fill="#34358e"/>
<circle cx="384.3" cy="324.4" r="2.5" fill="#34358e"/>
<circle cx="384.6" cy="323.1" r="2.5" fill="#34358e"/>
<circle cx="385.2" cy="315.4" r="2.5" fill="#34358e"/>
<circle cx="385.5" cy="322.7" r="2.5" fill="#34358e"/>
<circle cx="385.8" cy="320.6" r="2.5" fill="#34358e"/>
<circle cx="386.2" cy="322.3" r="2.5" fill="#34358e"/>
<circle cx="386.7" cy="317.7" r="2.5" fill="#34358e"/>
<circle cx="387.3" cy="323.1" r="2.5" fill="#34358e"/>
<circle cx="387.8" cy="319.8" r="2.5" fill="#34358e"/>
<circle cx="388.4" cy="315.5" r="2.5" fill="#34358e"/>
<circle cx="388.8" cy="318.9" r="2.5" fill="#34358e"/>
<circle cx="389.4" cy="317.7" r="2.5" fill="#34358e"/>
<circle cx="389.7" cy="324.0" r="2.5" fill="#34358e"/>
<circle cx="390.0" cy="316.0" r="2.5" fill="#34358e"/>
<circle cx="390.4" cy="321.1" r="2.5" fill="#34358e"/>
<circle cx="390.7" cy="322.7" r="2.5" fill="#34358e"/>
<circle cx="390.9" cy="320.3" r="2.5" fill="#34358e"/>
<circle cx="391.3" cy="319.6" r="2.5" fill="#34358e"/>
<circle cx="391.6" cy="323.6" r="2.5" fill="#34358e"/>
<circle cx="392.1" cy="322.3" r="2.5" fill="#34358e"/>
<circle cx="392.5" cy="324.8" r="2.5" fill="#34358e"/>
<circle cx="392.8" cy="316.4" r="2.5" fill="#34358e"/>
<circle cx="393.2" cy="324.6" r="2.5" fill="#34358e"/>
<circle cx="393.5" cy="321.1" r="2.5" fill="#34358e"/>
<circle cx="394.3" cy="323.8" r="2.5" fill="#34358e"/>
<circle cx="395.0" cy="321.1" r="2.5" fill="#34358e"/>
<circle cx="395.4" cy="317.4" r="2.5" fill="#34358e"/>
<circle cx="395.9" cy="324.8" r="2.5" fill="#34358e"/>
<circle cx="396.4" cy="319.2" r="2.5" fill="#34358e"/>
<circle cx="397.0" cy="323.1" r="2.5" fill="#34358e"/>
<circle cx="397.7" cy="316.7" r="2.5" fill="#34358e"/>
<circle cx="398.4" cy="321.5" r="2.5" fill="#34358e"/>
<circle cx="399.1" cy="318.4" r="2.5" fill="#34358e"/>
<circle cx="399.4" cy="324.9" r="2.5" fill="#34358e"/>
<circle cx="399.8" cy="324.4" r="2.5" fill="#34358e"/>
<circle cx="400.1" cy="322.4" r="2.5" fill="#34358e"/>
<circle cx="400.7" cy="322.8" r="2.5" fill="#34358e"/>
<circle cx="401.2" cy="325.0" r="2.5" fill="#34358e"/>
<circle cx="401.6" cy="315.5" r="2.5" fill="#34358e"/>
<circle cx="401.8" cy="320.6" r="2.5" fill="#34358e"/>
<circle cx="402.5" cy="317.6" r="2.5" fill="#34358e"/>
<circle cx="403.1" cy="322.0" r="2.5" fill="#34358e"/>
<circle cx="403.7" cy="317.2" r="2.5" fill="#34358e"/>
<circle cx="404.4" cy="315.2" r="2.5" fill="#34358e"/>
<circle cx="404.7" cy="315.6" r="2.5" fill="#34358e"/>
<circle cx="405.1" cy="318.6" r="2.5" fill="#34358e"/>
<circle cx="405.5" cy="316.2" r="2.5" fill="#34358e"/>
<circle cx="405.8" cy="320.1" r="2.5" fill="#34358e"/>
<circle cx="406.1" cy="322.1" r="2.5" fill="#34358e"/>
<circle cx="406.6" cy="319.2" r="2.5" fill="#34358e"/>
<circle cx="407.2" cy="322.3" r="2.5" fill="#34358e"/>
<circle cx="407.8" cy="322.4" r="2.5" fill="#34358e"/>
<circle cx="408.2" cy="316.2" r="2.5" fill="#34358e"/>
<circle cx="408.6" cy="324.5" r="2.5" fill="#34358e"/>
<circle cx="409.0" cy="318.2" r="2.5" fill="#34358e"/>
<circle cx="409.4" cy="318.2" r="2.5" fill="#34358e"/>
<circle cx="409.9" cy="318.9" r="2.5" fill="#34358e"/>
<circle cx="410.2" cy="324.5" r="2.5" fill="#34358e"/>
<circle cx="410.5" cy="322.4" r="2.5" fill="#34358e"/>
<circle cx="411.0" cy="325.0" r="2.5" fill="#34358e"/>
<circle cx="411.5" cy="321.9" r="2.5" fill="#34358e"/>
<circle cx="411.9" cy="320.5" r="2.5" fill="#34358e"/>
<circle cx="412.6" cy="323.7" r="2.5" fill="#34358e"/>
<circle cx="413.3" cy="322.7" r="2.5" fill="#34358e"/>
<circle cx="414.0" cy="324.4" r="2.5" fill="#34358e"/>
<circle cx="414.7" cy="321.7" r="2.5" fill="#34358e"/>
<circle cx="415.4" cy="323.6" r="2.5" fill="#34358e"/>
<circle cx="415.9" cy="318.6" r="2.5" fill="#34358e"/>
<circle cx="416.2" cy="323.1" r="2.5" fill="#34358e"/>
<circle cx="416.8" cy="315.7" r="2.5" fill="#34358e"/>
<circle cx="417.2" cy="323.9" r="2.5" fill="#34358e"/>
<circle cx="417.7" cy="315.1" r="2.5" fill="#34358e"/>
<circle cx="418.0" cy="319.5" r="2.5" fill="#34358e"/>
<circle cx="418.4" cy="319.4" r="2.5" fill="#34358e"/>
<circle cx="418.8" cy="319.7" r="2.5" fill="#34358e"/>
<circle cx="419.5" cy="316.8" r="2.5" fill="#34358e"/>
<circle cx="420.0" cy="320.9" r="2.5" fill="#34358e"/>
<circle cx="420.6" cy="324.4" r="2.5" fill="#34358e"/>
<circle cx="421.2" cy="318.8" r="2.5" fill="#34358e"/>
<circle cx="421.7" cy="319.1" r="2.5" fill="#34358e"/>
<circle cx="422.2" cy="322.1" r="2.5" fill="#34358e"/>
<circle cx="422.5" cy="319.8" r="2.5" fill="#34358e"/>
<circle cx="423.1" cy="320.8" r="2.5" fill="#34358e"/>
<circle cx="423.3" cy="319.5" r="2.5" fill="#34358e"/>
<circle cx="423.8" cy="319.9" r="2.5" fill="#34358e"/>
<circle cx="424.4" cy="315.9" r="2.5" fill="#34358e"/>
<circle cx="424.7" cy="321.3" r="2.5" fill="#34358e"/>
<circle cx="425.4" cy="318.3" r="2.5" fill="#34358e"/>
<circle cx="425.8" cy="318.3" r="2.5" fill="#34358e"/>
<circle cx="426.6" cy="321.9" r="2.5" fill="#34358e"/>
<circle cx="427.3" cy="324.3" r="2.5" fill="#34358e"/>
<circle cx="428.0" cy="321.0" r="2.5" fill="#34358e"/>
<circle cx="428.4" cy="317.0" r="2.5" fill="#34358e"/>
<circle cx="429.0" cy="315.8" r="2.5" fill="#34358e"/>
<circle cx="429.6" cy="317.5" r="2.5" fill="#34358e"/>
<circle cx="430.1" cy="315.1" r="2.5" fill="#34358e"/>
<circle cx="430.4" cy="316.7" r="2.5" fill="#34358e"/>
<circle cx="431.0" cy="323.3" r="2.5" fill="#34358e"/>
<circle cx="431.7" cy="321.4" r="2.5" fill="#34358e"/>
<circle cx="432.2" cy="316.7" r="2.5" fill="#34358e"/>
<circle cx="432.5" cy="323.1" r="2.5" fill="#34358e"/>
<circle cx="433.1" cy="324.7" r="2.5" fill="#34358e"/>
<circle cx="433.6" cy="317.7" r="2.5" fill="#34358e"/>
<circle cx="434.1" cy="323.4" r="2.5" fill="#34358e"/>
<circle cx="434.8" cy="316.8" r="2.5" fill="#34358e"/>
<circle cx="435.4" cy="320.4" r="2.5" fill="#34358e"/>
<circle cx="436.1" cy="317.6" r="2.5" fill="#34358e"/>
<circle cx="436.4" cy="322.3" r="2.5" fill="#34358e"/>
<circle cx="436.7" cy="324.9" r="2.5" fill="#34358e"/>
<circle cx="437.2" cy="316.7" r="2.5" fill="#34358e"/>
<circle cx="437.8" cy="324.4" r="2.5" fill="#34358e"/>
<circle cx="438.2" cy="322.1" r="2.5" fill="#34358e"/>
<circle cx="438.8" cy="319.7" r="2.5" fill="#34358e"/>
<circle cx="439.5" cy="324.7" r="2.5" fill="#34358e"/>
<circle cx="440.3" cy="323.7" r="2.5" fill="#34358e"/>
<circle cx="440.9" cy="316.6" r="2.5" fill="#34358e"/>
<circle cx="441.5" cy="323.8" r="2.5" fill="#34358e"/>
<circle cx="442.1" cy="321.7" r="2.5" fill="#34358e"/>
<circle cx="442.3" cy="322.5" r="2.5" fill="#34358e"/>
<circle cx="442.7" cy="319.5" r="2.5" fill="#34358e"/>
<circle cx="443.1" cy="319.8" r="2.5" fill="#34358e"/>
<circle cx="443.7" cy="323.9" r="2.5" fill="#34358e"/>
<circle cx="444.0" cy="318.8" r="2.5" fill="#34358e"/>
<circle cx="444.5" cy="324.3" r="2.5" fill="#34358e"/>
<circle cx="444.8" cy="315.8" r="2.5" fill="#34358e"/>
<circle cx="445.4" cy="322.4" r="2.5" fill="#34358e"/>
<circle cx="445.7" cy="315.1" r="2.5" fill="#34358e"/>
<circle cx="446.3" cy="318.3" r="2.5" fill="#34358e"/>
<circle cx="446.7" cy="322.8" r="2.5" fill="#34358e"/>
<circle cx="447.2" cy="324.2" r="2.5" fill="#34358e"/>
<circle cx="447.8" cy="321.7" r="2.5" fill="#34358e"/>
<circle cx="448.4" cy="321.9" r="2.5" fill="#34358e"/>
<circle cx="448.9" cy="320.9" r="2.5" fill="#34358e"/>
<circle cx="449.6" cy="322.5" r="2.5" fill="#34358e"/>
<circle cx="450.2" cy="323.5" r="2.5" fill="#34358e"/>
<circle cx="450.8" cy="323.0" r="2.5" fill="#34358e"/>
<circle cx="451.4" cy="323.0" r="2.5" fill="#34358e"/>
<circle cx="452.1" cy="319.0" r="2.5" fill="#34358e"/>
<circle cx="452.6" cy="315.9" r="2.5" fill="#34358e"/>
<circle cx="453.0" cy="318.2" r="2.5" fill="#34358e"/>
<circle cx="453.6" cy="321.5" r="2.5" fill="#34358e"/>
<circle cx="453.9" cy="321.8" r="2.5" fill="#34358e"/>
<circle cx="454.3" cy="321.6" r="2.5" fill="#34358e"/>
<circle cx="455.0" cy="323.0" r="2.5" fill="#34358e"/>
<circle cx="455.6" cy="319.0" r="2.5" fill="#34358e"/>
<circle cx="456.0" cy="321.8" r="2.5" fill="#34358e"/>
<circle cx="456.3" cy="316.3" r="2.5" fill="#34358e"/>
<circle cx="456.7" cy="321.8" r="2.5" fill="#34358e"/>
<circle cx="457.1" cy="317.3" r="2.5" fill="#34358e"/>
<circle cx="457.8" cy="320.0" r="2.5" fill="#34358e"/>
<circle cx="458.3" cy="324.5" r="2.5" fill="#34358e"/>
<circle cx="459.0" cy="324.6" r="2.5" fill="#34358e"/>
<circle cx="459.4" cy="322.2" r="2.5" fill="#34358e"/>
<circle cx="460.0" cy="319.1" r="2.5" fill="#34358e"/>
<circle cx="460.4" cy="316.3" r="2.5" fill="#34358e"/>
<circle cx="461.2" cy="324.9" r="2.5" fill="#34358e"/>
<circle cx="461.7" cy="321.3" r="2.5" fill="#34358e"/>
<circle cx="462.2" cy="321.3" r="2.5" fill="#34358e"/>
<circle cx="462.6" cy="319.0" r="2.5" fill="#34358e"/>
<circle cx="463.1" cy="315.4" r="2.5" fill="#34358e"/>
<circle cx="463.9" cy="315.1" r="2.5" fill="#34358e"/>
<circle cx="464.3" cy="317.2" r="2.5" fill="#34358e"/>
<circle cx="464.9" cy="318.5" r="2.5" fill="#34358e"/>
<circle cx="465.2" cy="314.3" r="2.5" fill="#34358e"/>
<circle cx="465.7" cy="318.4" r="2.5" fill="#34358e"/>
<circle cx="466.1" cy="312.5" r="2.5" fill="#34358e"/>
<circle cx="466.5" cy="312.1" r="2.5" fill="#34358e"/>
<circle cx="466.9" cy="315.9" r="2.5" fill="#34358e"/>
<circle cx="467.5" cy="317.2" r="2.5" fill="#34358e"/>
<circle cx="468.1" cy="312.3" r="2.5" fill="#34358e"/>
<circle cx="468.6" cy="317.5" r="2.5" fill="#34358e"/>
<circle cx="469.3" cy="311.7" r="2.5" fill="#34358e"/>
<circle cx="469.7" cy="317.1" r="2.5" fill="#34358e"/>
<circle cx="470.1" cy="314.7" r="2.5" fill="#34358e"/>
<circle cx="470.6" cy="317.5" r="2.5" fill="#34358e"/>
<circle cx="470.9" cy="316.9" r="2.5" fill="#34358e"/>
<circle cx="471.3" cy="314.1" r="2.5" fill="#34358e"/>
<circle cx="471.7" cy="313.8" r="2.5" fill="#34358e"/>
<circle cx="472.2" cy="316.3" r="2.5" fill="#34358e"/>
<circle cx="472.9" cy="320.4" r="2.5" fill="#34358e"/>
<circle cx="473.2" cy="317.0" r="2.5" fill="#34358e"/>
<circle cx="473.7" cy="320.6" r="2.5" fill="#34358e"/>
<circle cx="474.4" cy="311.6" r="2.5" fill="#34358e"/>
<circle cx="474.7" cy="319.2" r="2.5" fill="#34358e"/>
<circle cx="475.3" cy="317.1" r="2.5" fill="#34358e"/>
<circle cx="475.6" cy="314.7" r="2.5" fill="#34358e"/>
<circle cx="476.3" cy="320.4" r="2.5" fill="#34358e"/>
<circle cx="476.6" cy="312.3" r="2.5" fill="#34358e"/>
<circle cx="78.5" cy="296.3" r="2.5" fill="#34358e"/>
<circle cx="100.9" cy="305.5" r="2.5" fill="#34358e"/>
<circle cx="100.9" cy="308.4" r="2.5" fill="#34358e"/>
<circle cx="118.6" cy="305.5" r="2.5" fill="#34358e"/>
<circle cx="81.9" cy="314.6" r="2.5" fill="#34358e"/>
<circle cx="78.8" cy="318.5" r="2.5" fill="#34358e"/>
<circle cx="99.4" cy="316.3" r="2.5" fill="#34358e"/>
<circle cx="108.0" cy="312.7" r="2.5" fill="#34358e"/>
<circle cx="110.2" cy="312.7" r="2.5" fill="#34358e"/>
<circle cx="106.2" cy="315.0" r="2.5" fill="#34358e"/>
<circle cx="128.0" cy="295.3" r="2.5" fill="#34358e"/>
<circle cx="126.5" cy="300.7" r="2.5" fill="#34358e"/>
<circle cx="131.1" cy="299.5" r="2.5" fill="#34358e"/>
<circle cx="118.8" cy="304.9" r="2.5" fill="#34358e"/>
<circle cx="123.4" cy="305.3" r="2.5" fill="#34358e"/>
<circle cx="124.5" cy="308.8" r="2.5" fill="#34358e"/>
<circle cx="126.8" cy="311.8" r="2.5" fill="#34358e"/>
<circle cx="127.8" cy="313.4" r="2.5" fill="#34358e"/>
<circle cx="124.2" cy="310.3" r="2.5" fill="#34358e"/>
<circle cx="174.6" cy="305.2" r="2.5" fill="#34358e"/>
<circle cx="184.8" cy="303.5" r="2.5" fill="#34358e"/>
<circle cx="192.5" cy="307.5" r="2.5" fill="#34358e"/>
<circle cx="197.7" cy="313.3" r="2.5" fill="#34358e"/>
<circle cx="202.3" cy="313.3" r="2.5" fill="#34358e"/>
<circle cx="191.3" cy="315.6" r="2.5" fill="#34358e"/>
<circle cx="211.3" cy="276.7" r="2.5" fill="#34358e"/>
<circle cx="307.7" cy="296.3" r="2.5" fill="#34358e"/>
<circle cx="361.5" cy="301.7" r="2.5" fill="#34358e"/>
<circle cx="365.6" cy="302.3" r="2.5" fill="#34358e"/>
<circle cx="363.8" cy="303.8" r="2.5" fill="#34358e"/>
<circle cx="357.5" cy="308.7" r="2.5" fill="#34358e"/>
<circle cx="367.9" cy="307.5" r="2.5" fill="#34358e"/>
<circle cx="343.1" cy="312.7" r="2.5" fill="#34358e"/>
<circle cx="389.2" cy="309.2" r="2.5" fill="#34358e"/>
<circle cx="427.5" cy="309.2" r="2.5" fill="#34358e"/>
<circle cx="419.4" cy="312.1" r="2.5" fill="#34358e"/>
<circle cx="441.3" cy="311.5" r="2.5" fill="#34358e"/>
<circle cx="448.8" cy="309.2" r="2.5" fill="#34358e"/>
<circle cx="394.6" cy="312.7" r="2.5" fill="#34358e"/>
<circle cx="390.6" cy="309.2" r="2.5" fill="#34358e"/>
<circle cx="449.2" cy="308.6" r="2.5" fill="#34358e"/>
<circle cx="453.6" cy="309.5" r="2.5" fill="#34358e"/>
<circle cx="441.5" cy="311.0" r="2.5" fill="#34358e"/>
<circle cx="468.0" cy="309.0" r="2.5" fill="#34358e"/>
<circle cx="323.8" cy="309.2" r="2.5" fill="#34358e"/>
<circle cx="329.6" cy="313.8" r="2.5" fill="#34358e"/>
<circle cx="470.5" cy="311.0" r="2.5" fill="#34358e"/>
<circle cx="474.0" cy="313.0" r="2.5" fill="#34358e"/>
<circle cx="132.5" cy="303.5" r="2.5" fill="#34358e"/>
<circle cx="133.5" cy="306.6" r="2.5" fill="#34358e"/>
<circle cx="134.4" cy="303.7" r="2.5" fill="#34358e"/>
<circle cx="135.4" cy="306.4" r="2.5" fill="#34358e"/>
<circle cx="136.9" cy="304.0" r="2.5" fill="#34358e"/>
<circle cx="137.9" cy="306.3" r="2.5" fill="#34358e"/>
<circle cx="139.0" cy="303.9" r="2.5" fill="#34358e"/>
<circle cx="140.0" cy="306.2" r="2.5" fill="#34358e"/>
<circle cx="140.9" cy="303.8" r="2.5" fill="#34358e"/>
<circle cx="141.9" cy="306.2" r="2.5" fill="#34358e"/>
<circle cx="142.9" cy="303.7" r="2.5" fill="#34358e"/>
<circle cx="143.9" cy="306.3" r="2.5" fill="#34358e"/>
<circle cx="144.8" cy="303.7" r="2.5" fill="#34358e"/>
<circle cx="145.8" cy="306.3" r="2.5" fill="#34358e"/>
<circle cx="146.5" cy="303.9" r="2.5" fill="#34358e"/>
<circle cx="147.5" cy="306.0" r="2.5" fill="#34358e"/>
<circle cx="148.6" cy="303.7" r="2.5" fill="#34358e"/>
<circle cx="149.6" cy="306.2" r="2.5" fill="#34358e"/>
<circle cx="150.4" cy="303.5" r="2.5" fill="#34358e"/>
<circle cx="151.4" cy="306.2" r="2.5" fill="#34358e"/>
<circle cx="152.4" cy="303.7" r="2.5" fill="#34358e"/>
<circle cx="153.4" cy="306.1" r="2.5" fill="#34358e"/>
<circle cx="154.7" cy="303.7" r="2.5" fill="#34358e"/>
<circle cx="155.7" cy="306.0" r="2.5" fill="#34358e"/>
<circle cx="156.7" cy="304.0" r="2.5" fill="#34358e"/>
<circle cx="157.7" cy="306.0" r="2.5" fill="#34358e"/>
<circle cx="158.9" cy="304.0" r="2.5" fill="#34358e"/>
<circle cx="159.9" cy="306.2" r="2.5" fill="#34358e"/>
<circle cx="161.1" cy="303.6" r="2.5" fill="#34358e"/>
<circle cx="162.1" cy="306.2" r="2.5" fill="#34358e"/>
<circle cx="163.3" cy="303.8" r="2.5" fill="#34358e"/>
<circle cx="164.3" cy="306.2" r="2.5" fill="#34358e"/>
<circle cx="165.4" cy="303.7" r="2.5" fill="#34358e"/>
<circle cx="166.4" cy="306.5" r="2.5" fill="#34358e"/>
<circle cx="167.1" cy="303.5" r="2.5" fill="#34358e"/>
<circle cx="168.1" cy="306.2" r="2.5" fill="#34358e"/>
<circle cx="168.9" cy="303.9" r="2.5" fill="#34358e"/>
<circle cx="169.9" cy="306.3" r="2.5" fill="#34358e"/>
<circle cx="171.4" cy="303.6" r="2.5" fill="#34358e"/>
<circle cx="172.4" cy="306.2" r="2.5" fill="#34358e"/>
<circle cx="135.0" cy="313.3" r="2.5" fill="#34358e"/>
<circle cx="137.4" cy="313.9" r="2.5" fill="#34358e"/>
<circle cx="139.0" cy="313.5" r="2.5" fill="#34358e"/>
<circle cx="141.2" cy="313.8" r="2.5" fill="#34358e"/>
<circle cx="143.1" cy="313.2" r="2.5" fill="#34358e"/>
<circle cx="145.2" cy="313.2" r="2.5" fill="#34358e"/>
<circle cx="147.2" cy="313.6" r="2.5" fill="#34358e"/>
<circle cx="149.5" cy="313.7" r="2.5" fill="#34358e"/>
<circle cx="150.7" cy="313.9" r="2.5" fill="#34358e"/>
<circle cx="152.8" cy="313.7" r="2.5" fill="#34358e"/>
<circle cx="154.0" cy="313.8" r="2.5" fill="#34358e"/>
<circle cx="155.7" cy="313.7" r="2.5" fill="#34358e"/>
<circle cx="158.1" cy="313.9" r="2.5" fill="#34358e"/>
<circle cx="159.4" cy="313.8" r="2.5" fill="#34358e"/>
<circle cx="161.1" cy="313.8" r="2.5" fill="#34358e"/>
<circle cx="162.8" cy="313.6" r="2.5" fill="#34358e"/>
<circle cx="164.5" cy="313.3" r="2.5" fill="#34358e"/>
<circle cx="166.1" cy="313.8" r="2.5" fill="#34358e"/>
<circle cx="167.4" cy="313.3" r="2.5" fill="#34358e"/>
<circle cx="169.6" cy="313.7" r="2.5" fill="#34358e"/>
<circle cx="171.5" cy="313.3" r="2.5" fill="#34358e"/>
<circle cx="172.8" cy="313.4" r="2.5" fill="#34358e"/>
<circle cx="175.1" cy="313.6" r="2.5" fill="#34358e"/>
<circle cx="177.4" cy="313.4" r="2.5" fill="#34358e"/>
<circle cx="179.1" cy="313.6" r="2.5" fill="#34358e"/>
<circle cx="181.3" cy="313.3" r="2.5" fill="#34358e"/>
<circle cx="183.6" cy="313.6" r="2.5" fill="#34358e"/>
<circle cx="184.8" cy="313.5" r="2.5" fill="#34358e"/>
<circle cx="186.5" cy="313.7" r="2.5" fill="#34358e"/>
<circle cx="188.8" cy="313.6" r="2.5" fill="#34358e"/>
<circle cx="161.5" cy="308.0" r="2.5" fill="#34358e"/>
<circle cx="164.0" cy="309.5" r="2.5" fill="#34358e"/>
<circle cx="167.0" cy="308.5" r="2.5" fill="#34358e"/>
<circle cx="170.0" cy="310.5" r="2.5" fill="#34358e"/>
<circle cx="163.0" cy="311.5" r="2.5" fill="#34358e"/>
<circle cx="168.5" cy="312.5" r="2.5" fill="#34358e"/>
<circle cx="279.0" cy="311.2" r="2.5" fill="#34358e"/>
<circle cx="281.1" cy="310.8" r="2.5" fill="#34358e"/>
<circle cx="283.2" cy="310.9" r="2.5" fill="#34358e"/>
<circle cx="285.1" cy="310.9" r="2.5" fill="#34358e"/>
<circle cx="286.7" cy="310.9" r="2.5" fill="#34358e"/>
<circle cx="288.4" cy="311.5" r="2.5" fill="#34358e"/>
<circle cx="290.2" cy="311.2" r="2.5" fill="#34358e"/>
<circle cx="292.1" cy="311.9" r="2.5" fill="#34358e"/>
<circle cx="293.7" cy="311.5" r="2.5" fill="#34358e"/>
<circle cx="295.5" cy="312.2" r="2.5" fill="#34358e"/>
<circle cx="297.1" cy="311.7" r="2.5" fill="#34358e"/>
<circle cx="298.6" cy="311.0" r="2.5" fill="#34358e"/>
<circle cx="300.6" cy="311.5" r="2.5" fill="#34358e"/>
<circle cx="302.1" cy="310.7" r="2.5" fill="#34358e"/>
<circle cx="304.3" cy="311.2" r="2.5" fill="#34358e"/>
<circle cx="306.4" cy="311.3" r="2.5" fill="#34358e"/>
<circle cx="308.3" cy="311.5" r="2.5" fill="#34358e"/>
<circle cx="310.7" cy="312.1" r="2.5" fill="#34358e"/>
<circle cx="312.5" cy="311.4" r="2.5" fill="#34358e"/>
<circle cx="313.9" cy="311.8" r="2.5" fill="#34358e"/>
<circle cx="315.3" cy="311.1" r="2.5" fill="#34358e"/>
<circle cx="317.5" cy="310.7" r="2.5" fill="#34358e"/>
<circle cx="319.5" cy="311.5" r="2.5" fill="#34358e"/>
<circle cx="321.4" cy="311.1" r="2.5" fill="#34358e"/>
<circle cx="322.7" cy="312.1" r="2.5" fill="#34358e"/>
<circle cx="324.9" cy="311.9" r="2.5" fill="#34358e"/>
<circle cx="326.2" cy="311.9" r="2.5" fill="#34358e"/>
<circle cx="327.6" cy="310.9" r="2.5" fill="#34358e"/>
<circle cx="329.5" cy="311.6" r="2.5" fill="#34358e"/>
<circle cx="330.8" cy="311.8" r="2.5" fill="#34358e"/>
<circle cx="198.0" cy="315.8" r="2.5" fill="#34358e"/>
<circle cx="202.9" cy="315.3" r="2.5" fill="#34358e"/>
<circle cx="206.7" cy="315.9" r="2.5" fill="#34358e"/>
<circle cx="211.2" cy="314.3" r="2.5" fill="#34358e"/>
<circle cx="216.0" cy="315.3" r="2.5" fill="#34358e"/>
<circle cx="219.6" cy="314.2" r="2.5" fill="#34358e"/>
<circle cx="222.9" cy="314.9" r="2.5" fill="#34358e"/>
<circle cx="226.5" cy="314.3" r="2.5" fill="#34358e"/>
<circle cx="230.2" cy="313.9" r="2.5" fill="#34358e"/>
<circle cx="234.3" cy="314.3" r="2.5" fill="#34358e"/>
<circle cx="238.0" cy="314.3" r="2.5" fill="#34358e"/>
<circle cx="242.1" cy="315.7" r="2.5" fill="#34358e"/>
<circle cx="245.6" cy="315.7" r="2.5" fill="#34358e"/>
<circle cx="250.3" cy="315.1" r="2.5" fill="#34358e"/>
<circle cx="254.5" cy="315.4" r="2.5" fill="#34358e"/>
<circle cx="258.7" cy="315.2" r="2.5" fill="#34358e"/>
<circle cx="263.5" cy="315.5" r="2.5" fill="#34358e"/>
<circle cx="267.2" cy="313.7" r="2.5" fill="#34358e"/>
<circle cx="272.1" cy="314.5" r="2.5" fill="#34358e"/>
<circle cx="276.7" cy="314.2" r="2.5" fill="#34358e"/>
<circle cx="280.7" cy="314.5" r="2.5" fill="#34358e"/>
<circle cx="172.9" cy="311.0" r="2.5" fill="#95d9f1"/>
<circle cx="176.3" cy="311.0" r="2.5" fill="#95d9f1"/>
<circle cx="179.8" cy="311.0" r="2.5" fill="#95d9f1"/>
<circle cx="182.1" cy="309.8" r="2.5" fill="#95d9f1"/>
<circle cx="185.0" cy="306.9" r="2.5" fill="#95d9f1"/>
<circle cx="187.3" cy="307.5" r="2.5" fill="#95d9f1"/>
<circle cx="190.8" cy="308.0" r="2.5" fill="#95d9f1"/>
<circle cx="173.3" cy="311.0" r="2.5" fill="#95d9f1"/>
<circle cx="211.5" cy="309.2" r="2.5" fill="#95d9f1"/>
<circle cx="276.9" cy="311.5" r="2.5" fill="#95d9f1"/>
<circle cx="278.7" cy="323.1" r="2.5" fill="#95d9f1"/>
<circle cx="289.8" cy="313.3" r="2.5" fill="#95d9f1"/>
<circle cx="311.7" cy="313.8" r="2.5" fill="#95d9f1"/>
<circle cx="314.6" cy="315.6" r="2.5" fill="#95d9f1"/>
<circle cx="322.7" cy="319.6" r="2.5" fill="#95d9f1"/>
<circle cx="326.2" cy="319.0" r="2.5" fill="#95d9f1"/>
<circle cx="329.0" cy="322.5" r="2.5" fill="#95d9f1"/>
<circle cx="336.5" cy="319.0" r="2.5" fill="#95d9f1"/>
<circle cx="351.2" cy="313.8" r="2.5" fill="#95d9f1"/>
<circle cx="354.6" cy="313.8" r="2.5" fill="#95d9f1"/>
<circle cx="361.5" cy="313.8" r="2.5" fill="#95d9f1"/>
<circle cx="367.9" cy="313.8" r="2.5" fill="#95d9f1"/>
<circle cx="376.5" cy="313.8" r="2.5" fill="#95d9f1"/>
<circle cx="382.9" cy="313.8" r="2.5" fill="#95d9f1"/>
<circle cx="336.7" cy="319.0" r="2.5" fill="#95d9f1"/>
<circle cx="340.8" cy="321.3" r="2.5" fill="#95d9f1"/>
<circle cx="345.6" cy="319.6" r="2.5" fill="#95d9f1"/>
<circle cx="417.5" cy="305.2" r="2.5" fill="#95d9f1"/>
<circle cx="409.4" cy="309.8" r="2.5" fill="#95d9f1"/>
<circle cx="429.5" cy="312.1" r="2.5" fill="#95d9f1"/>
<circle cx="192.7" cy="323.8" r="2.5" fill="#6bc34b"/>
<circle cx="193.0" cy="324.2" r="2.5" fill="#6bc34b"/>
<circle cx="196.0" cy="322.4" r="2.5" fill="#6bc34b"/>
<circle cx="196.5" cy="321.3" r="2.5" fill="#6bc34b"/>
<circle cx="197.8" cy="323.1" r="2.5" fill="#6bc34b"/>
<circle cx="198.9" cy="323.6" r="2.5" fill="#6bc34b"/>
<circle cx="199.3" cy="324.9" r="2.5" fill="#6bc34b"/>
<circle cx="203.4" cy="321.4" r="2.5" fill="#6bc34b"/>
<circle cx="204.0" cy="322.5" r="2.5" fill="#6bc34b"/>
<circle cx="204.2" cy="321.9" r="2.5" fill="#6bc34b"/>
<circle cx="207.3" cy="323.2" r="2.5" fill="#6bc34b"/>
<circle cx="209.5" cy="324.9" r="2.5" fill="#6bc34b"/>
<circle cx="210.2" cy="321.8" r="2.5" fill="#6bc34b"/>
<circle cx="212.1" cy="324.8" r="2.5" fill="#6bc34b"/>
<circle cx="213.1" cy="322.7" r="2.5" fill="#6bc34b"/>
<circle cx="217.0" cy="324.8" r="2.5" fill="#6bc34b"/>
<circle cx="217.6" cy="324.7" r="2.5" fill="#6bc34b"/>
<circle cx="220.6" cy="323.4" r="2.5" fill="#6bc34b"/>
<circle cx="221.7" cy="323.1" r="2.5" fill="#6bc34b"/>
<circle cx="222.2" cy="323.0" r="2.5" fill="#6bc34b"/>
<circle cx="226.1" cy="324.7" r="2.5" fill="#6bc34b"/>
<circle cx="226.7" cy="318.9" r="2.5" fill="#6bc34b"/>
<circle cx="227.9" cy="323.9" r="2.5" fill="#6bc34b"/>
<circle cx="232.9" cy="322.7" r="2.5" fill="#6bc34b"/>
<circle cx="233.9" cy="324.1" r="2.5" fill="#6bc34b"/>
<circle cx="234.3" cy="318.3" r="2.5" fill="#6bc34b"/>
<circle cx="235.3" cy="324.3" r="2.5" fill="#6bc34b"/>
<circle cx="236.1" cy="324.6" r="2.5" fill="#6bc34b"/>
<circle cx="237.0" cy="324.0" r="2.5" fill="#6bc34b"/>
<circle cx="239.7" cy="322.4" r="2.5" fill="#6bc34b"/>
<circle cx="242.2" cy="324.4" r="2.5" fill="#6bc34b"/>
<circle cx="243.5" cy="322.0" r="2.5" fill="#6bc34b"/>
<circle cx="244.8" cy="319.8" r="2.5" fill="#6bc34b"/>
<circle cx="245.2" cy="320.6" r="2.5" fill="#6bc34b"/>
<circle cx="247.7" cy="322.1" r="2.5" fill="#6bc34b"/>
<circle cx="248.3" cy="323.5" r="2.5" fill="#6bc34b"/>
<circle cx="251.9" cy="322.0" r="2.5" fill="#6bc34b"/>
<circle cx="254.1" cy="324.5" r="2.5" fill="#6bc34b"/>
<circle cx="255.4" cy="324.1" r="2.5" fill="#6bc34b"/>
<circle cx="255.7" cy="323.0" r="2.5" fill="#6bc34b"/>
<circle cx="257.4" cy="323.5" r="2.5" fill="#6bc34b"/>
<circle cx="259.0" cy="325.0" r="2.5" fill="#6bc34b"/>
<circle cx="259.4" cy="321.3" r="2.5" fill="#6bc34b"/>
<circle cx="261.6" cy="322.4" r="2.5" fill="#6bc34b"/>
<circle cx="264.8" cy="322.7" r="2.5" fill="#6bc34b"/>
<circle cx="267.1" cy="321.7" r="2.5" fill="#6bc34b"/>
<circle cx="268.5" cy="322.1" r="2.5" fill="#6bc34b"/>
<circle cx="270.6" cy="320.3" r="2.5" fill="#6bc34b"/>
<circle cx="271.0" cy="322.7" r="2.5" fill="#6bc34b"/>
<circle cx="272.3" cy="321.5" r="2.5" fill="#6bc34b"/>
<circle cx="273.5" cy="322.7" r="2.5" fill="#6bc34b"/>
<circle cx="276.3" cy="322.3" r="2.5" fill="#6bc34b"/>
<circle cx="277.0" cy="323.6" r="2.5" fill="#6bc34b"/>
<circle cx="278.7" cy="324.8" r="2.5" fill="#6bc34b"/>
<circle cx="279.2" cy="322.5" r="2.5" fill="#6bc34b"/>
<circle cx="279.8" cy="323.7" r="2.5" fill="#6bc34b"/>
<circle cx="282.3" cy="320.5" r="2.5" fill="#6bc34b"/>
<circle cx="282.8" cy="319.3" r="2.5" fill="#6bc34b"/>
<circle cx="283.2" cy="323.7" r="2.5" fill="#6bc34b"/>
<circle cx="285.4" cy="322.7" r="2.5" fill="#6bc34b"/>
<circle cx="229.6" cy="305.8" r="2.5" fill="#6bc34b"/>
<circle cx="279.8" cy="306.3" r="2.5" fill="#6bc34b"/>
<circle cx="283.8" cy="306.9" r="2.5" fill="#6bc34b"/>
<circle cx="281.2" cy="306.3" r="2.5" fill="#6bc34b"/>
<circle cx="284.6" cy="306.3" r="2.5" fill="#6bc34b"/>
<circle cx="288.0" cy="306.3" r="2.5" fill="#6bc34b"/>
<circle cx="291.4" cy="306.3" r="2.5" fill="#6bc34b"/>
<circle cx="294.8" cy="306.3" r="2.5" fill="#6bc34b"/>
<circle cx="298.2" cy="306.3" r="2.5" fill="#6bc34b"/>
<circle cx="301.6" cy="306.3" r="2.5" fill="#6bc34b"/>
<circle cx="305.0" cy="306.3" r="2.5" fill="#6bc34b"/>
<circle cx="308.4" cy="306.3" r="2.5" fill="#6bc34b"/>
<circle cx="311.8" cy="306.3" r="2.5" fill="#6bc34b"/>
<circle cx="303.0" cy="303.5" r="2.5" fill="#6bc34b"/>
<circle cx="314.6" cy="308.7" r="2.5" fill="#6bc34b"/>
<circle cx="317.5" cy="309.8" r="2.5" fill="#6bc34b"/>
<circle cx="320.4" cy="311.0" r="2.5" fill="#6bc34b"/>
<circle cx="273.7" cy="274.0" r="2.5" fill="#f8ad2c"/>
<circle cx="276.8" cy="273.5" r="2.5" fill="#f8ad2c"/>
<circle cx="276.2" cy="276.6" r="2.5" fill="#f8ad2c"/>
<circle cx="271.3" cy="279.8" r="2.5" fill="#f8ad2c"/>
<circle cx="279.4" cy="281.8" r="2.5" fill="#f8ad2c"/>
<circle cx="276.0" cy="297.1" r="2.5" fill="#f8ad2c"/>
<circle cx="214.4" cy="259.6" r="2.5" fill="#ee2a2a"/>
<circle cx="277.7" cy="283.6" r="2.5" fill="#ee2a2a"/>
<circle cx="275.2" cy="285.2" r="2.5" fill="#ee2a2a"/>
<circle cx="273.7" cy="286.7" r="2.5" fill="#ee2a2a"/>
</g>
<text x="189" y="251.5" font-size="7.4" textLength="37" lengthAdjust="spacingAndGlyphs" fill="#2a2a2a">rs4665972</text>
<text x="259" y="252.7" font-size="7.4" textLength="37.2" lengthAdjust="spacingAndGlyphs" fill="#2a2a2a">rs1260326</text>
<path d="M269.6,260.6 L273.2,264.2 L269.6,267.8 L266,264.2 Z" fill="#7d4fb8" stroke="#3c3c3c" stroke-width="0.55"/>
<path d="M61.3,199.1 H477.9 V330.6 H61.3 Z" fill="none" stroke="#262626" stroke-width="1.3"/>
<rect x="439.8" y="202.5" width="35.2" height="82.8" fill="#fff" stroke="#262626" stroke-width="1"/>
<text x="453.6" y="213.8" font-size="7.2" fill="#2a2a2a"><tspan font-style="italic">r</tspan><tspan font-size="5.6" dy="-3">2</tspan></text>
<rect x="443.8" y="217.1" width="8.8" height="13.3" fill="#ee2b2b" stroke="#333" stroke-width="0.6"/>
<rect x="443.8" y="230.4" width="8.8" height="12.7" fill="#f9ae2d" stroke="#333" stroke-width="0.6"/>
<rect x="443.8" y="243.1" width="8.8" height="12.9" fill="#69c04a" stroke="#333" stroke-width="0.6"/>
<rect x="443.8" y="256" width="8.8" height="12.9" fill="#96d9f2" stroke="#333" stroke-width="0.6"/>
<rect x="443.8" y="268.9" width="8.8" height="13.3" fill="#2d2f7e" stroke="#333" stroke-width="0.6"/>
<line x1="452.6" y1="230.4" x2="455.6" y2="230.4" stroke="#262626" stroke-width="0.8"/>
<text x="457.90" y="233.10" font-size="7.4" textLength="11.11" lengthAdjust="spacingAndGlyphs" fill="#2a2a2a">0.8</text>
<line x1="452.6" y1="243.1" x2="455.6" y2="243.1" stroke="#262626" stroke-width="0.8"/>
<text x="457.90" y="245.80" font-size="7.4" textLength="11.11" lengthAdjust="spacingAndGlyphs" fill="#2a2a2a">0.6</text>
<line x1="452.6" y1="256" x2="455.6" y2="256" stroke="#262626" stroke-width="0.8"/>
<text x="457.90" y="258.70" font-size="7.4" textLength="11.11" lengthAdjust="spacingAndGlyphs" fill="#2a2a2a">0.4</text>
<line x1="452.6" y1="268.9" x2="455.6" y2="268.9" stroke="#262626" stroke-width="0.8"/>
<text x="457.90" y="271.60" font-size="7.4" textLength="11.11" lengthAdjust="spacingAndGlyphs" fill="#2a2a2a">0.2</text>
<path d="M61.3,336.5 H477.9 V502.0 H61.3 Z" fill="none" stroke="#262626" stroke-width="1.3"/>
<line x1="131.5" y1="502.0" x2="131.5" y2="504.8" stroke="#262626" stroke-width="1"/>
<text x="124.06" y="513.70" font-size="7.5" textLength="14.89" lengthAdjust="spacingAndGlyphs" fill="#2a2a2a">27.4</text>
<line x1="215.0" y1="502.0" x2="215.0" y2="504.8" stroke="#262626" stroke-width="1"/>
<text x="207.56" y="513.70" font-size="7.5" textLength="14.89" lengthAdjust="spacingAndGlyphs" fill="#2a2a2a">27.6</text>
<line x1="298.4" y1="502.0" x2="298.4" y2="504.8" stroke="#262626" stroke-width="1"/>
<text x="290.96" y="513.70" font-size="7.5" textLength="14.89" lengthAdjust="spacingAndGlyphs" fill="#2a2a2a">27.8</text>
<line x1="381.9" y1="502.0" x2="381.9" y2="504.8" stroke="#262626" stroke-width="1"/>
<text x="377.65" y="513.70" font-size="7.5" textLength="8.51" lengthAdjust="spacingAndGlyphs" fill="#2a2a2a">28</text>
<line x1="465.4" y1="502.0" x2="465.4" y2="504.8" stroke="#262626" stroke-width="1"/>
<text x="457.96" y="513.70" font-size="7.5" textLength="14.89" lengthAdjust="spacingAndGlyphs" fill="#2a2a2a">28.2</text>
<text x="239" y="525.9" font-size="8.4" textLength="61.0" lengthAdjust="spacingAndGlyphs" fill="#2a2a2a" stroke="#2a2a2a" stroke-width="0.22">Position on chr2 (Mb)</text>
<text x="498.2" y="418" font-size="7.3" text-anchor="middle" fill="#2a2a2a">9 genes</text>
<text x="498.2" y="426.4" font-size="7.3" text-anchor="middle" fill="#2a2a2a">omitted</text>
<path d="M64.90,343.10 H70.30" stroke="#3a3a3a" stroke-width="0.72"/>
<path d="M63.70,343.10 L65.60,342.00 L65.60,344.20 Z" fill="#3a3a3a"/>
<text x="70.75" y="345.20" font-size="7.35" font-style="italic" fill="#303030">AC013472.4</text>
<rect x="61.3" y="347.0" width="1.30" height="2.6" fill="#2b2f8c"/>
<path d="M128.00,343.10 H133.40" stroke="#3a3a3a" stroke-width="0.72"/>
<path d="M126.80,343.10 L128.70,342.00 L128.70,344.20 Z" fill="#3a3a3a"/>
<text x="133.85" y="345.20" font-size="7.35" font-style="italic" fill="#303030">SLC5A6</text>
<rect x="140.8" y="347.0" width="6.10" height="2.6" fill="#2b2f8c"/>
<path d="M176.20,343.10 H181.60" stroke="#3a3a3a" stroke-width="0.72"/>
<path d="M175.00,343.10 L176.90,342.00 L176.90,344.20 Z" fill="#3a3a3a"/>
<text x="182.05" y="345.20" font-size="7.35" font-style="italic" fill="#303030">UCN</text>
<rect x="185.8" y="346.9" width="0.8" height="2.8" fill="#2b2f8c"/>
<path d="M208.50,343.10 H213.90" stroke="#3a3a3a" stroke-width="0.72"/>
<path d="M207.30,343.10 L209.20,342.00 L209.20,344.20 Z" fill="#3a3a3a"/>
<text x="214.35" y="345.20" font-size="7.35" font-style="italic" fill="#303030">PPM1G</text>
<line x1="216.2" y1="348.3" x2="228.9" y2="348.3" stroke="#4a56a8" stroke-width="0.8"/>
<rect x="216.2" y="347.0" width="3.60" height="2.6" fill="#2b2f8c"/>
<rect x="228.5" y="346.9" width="0.8" height="2.8" fill="#2b2f8c"/>
<path d="M249.60,343.10 H255.00" stroke="#3a3a3a" stroke-width="0.72"/>
<path d="M248.40,343.10 L250.30,342.00 L250.30,344.20 Z" fill="#3a3a3a"/>
<text x="255.45" y="345.20" font-size="7.35" font-style="italic" fill="#303030">FNDC4</text>
<rect x="262.5" y="347.0" width="1.90" height="2.6" fill="#2b2f8c"/>
<text x="292.80" y="345.20" font-size="7.35" font-style="italic" fill="#303030">ZNF512</text>
<path d="M319.65,343.10 H325.05" stroke="#3a3a3a" stroke-width="0.72"/>
<path d="M326.25,343.10 L324.35,342.00 L324.35,344.20 Z" fill="#3a3a3a"/>
<line x1="300.3" y1="348.3" x2="317.7" y2="348.3" stroke="#4a56a8" stroke-width="0.8"/>
<rect x="300.2" y="346.9" width="0.8" height="2.8" fill="#2b2f8c"/>
<rect x="307.2" y="347.0" width="2.40" height="2.6" fill="#2b2f8c"/>
<rect x="311.1" y="346.9" width="0.8" height="2.8" fill="#2b2f8c"/>
<rect x="314" y="347.0" width="1.50" height="2.6" fill="#2b2f8c"/>
<rect x="316.4" y="347.0" width="1.30" height="2.6" fill="#2b2f8c"/>
<text x="407.60" y="345.20" font-size="7.35" font-style="italic" fill="#303030">MRPL33</text>
<path d="M436.50,343.10 H441.90" stroke="#3a3a3a" stroke-width="0.72"/>
<path d="M443.10,343.10 L441.20,342.00 L441.20,344.20 Z" fill="#3a3a3a"/>
<line x1="379.2" y1="348.3" x2="470.3" y2="348.3" stroke="#4a56a8" stroke-width="0.8"/>
<rect x="379.2" y="347.0" width="2.60" height="2.6" fill="#2b2f8c"/>
<rect x="382.4" y="347.0" width="1.20" height="2.6" fill="#2b2f8c"/>
<rect x="430.5" y="346.9" width="0.8" height="2.8" fill="#2b2f8c"/>
<rect x="445.3" y="346.9" width="0.8" height="2.8" fill="#2b2f8c"/>
<rect x="469.9" y="346.9" width="0.8" height="2.8" fill="#2b2f8c"/>
<text x="65.00" y="361.73" font-size="7.35" font-style="italic" fill="#303030">MAPRE3</text>
<path d="M95.53,359.63 H100.93" stroke="#3a3a3a" stroke-width="0.72"/>
<path d="M102.13,359.63 L100.23,358.53 L100.23,360.73 Z" fill="#3a3a3a"/>
<line x1="61.3" y1="364.9" x2="69.2" y2="364.9" stroke="#4a56a8" stroke-width="0.8"/>
<rect x="61.8" y="363.5" width="0.8" height="2.8" fill="#2b2f8c"/>
<rect x="63.9" y="363.5" width="0.8" height="2.8" fill="#2b2f8c"/>
<rect x="67" y="363.6" width="2.20" height="2.6" fill="#2b2f8c"/>
<text x="131.90" y="361.73" font-size="7.35" font-style="italic" fill="#303030">ATRAID</text>
<path d="M159.15,359.63 H164.55" stroke="#3a3a3a" stroke-width="0.72"/>
<path d="M165.75,359.63 L163.85,358.53 L163.85,360.73 Z" fill="#3a3a3a"/>
<rect x="146.6" y="363.6" width="1.70" height="2.6" fill="#2b2f8c"/>
<path d="M176.50,359.63 H181.90" stroke="#3a3a3a" stroke-width="0.72"/>
<path d="M175.30,359.63 L177.20,358.53 L177.20,360.73 Z" fill="#3a3a3a"/>
<text x="182.35" y="361.73" font-size="7.35" font-style="italic" fill="#303030">MPV17</text>
<line x1="186.9" y1="364.9" x2="194.6" y2="364.9" stroke="#4a56a8" stroke-width="0.8"/>
<rect x="186.9" y="363.6" width="2.60" height="2.6" fill="#2b2f8c"/>
<rect x="190.4" y="363.6" width="1.00" height="2.6" fill="#2b2f8c"/>
<rect x="193" y="363.6" width="1.60" height="2.6" fill="#2b2f8c"/>
<text x="224.20" y="361.73" font-size="7.35" font-style="italic" fill="#303030">NRBP1</text>
<path d="M249.01,359.63 H254.41" stroke="#3a3a3a" stroke-width="0.72"/>
<path d="M255.61,359.63 L253.71,358.53 L253.71,360.73 Z" fill="#3a3a3a"/>
<rect x="236.2" y="363.6" width="6.60" height="2.6" fill="#2b2f8c"/>
<text x="274.70" y="361.73" font-size="7.35" font-style="italic" fill="#303030">C2orf16</text>
<path d="M301.15,359.63 H306.55" stroke="#3a3a3a" stroke-width="0.72"/>
<path d="M307.75,359.63 L305.85,358.53 L305.85,360.73 Z" fill="#3a3a3a"/>
<line x1="281.2" y1="364.9" x2="301.2" y2="364.9" stroke="#4a56a8" stroke-width="0.8"/>
<rect x="281.0" y="363.5" width="0.8" height="2.8" fill="#2b2f8c"/>
<rect x="293" y="363.6" width="8.20" height="2.6" fill="#2b2f8c"/>
<text x="319.60" y="361.73" font-size="7.35" font-style="italic" fill="#303030">SLC4A1AP</text>
<path d="M357.08,359.63 H362.48" stroke="#3a3a3a" stroke-width="0.72"/>
<path d="M363.68,359.63 L361.78,358.53 L361.78,360.73 Z" fill="#3a3a3a"/>
<line x1="334.2" y1="364.9" x2="348" y2="364.9" stroke="#4a56a8" stroke-width="0.8"/>
<rect x="334.2" y="363.6" width="2.30" height="2.6" fill="#2b2f8c"/>
<rect x="338" y="363.6" width="1.50" height="2.6" fill="#2b2f8c"/>
<rect x="341" y="363.6" width="2.20" height="2.6" fill="#2b2f8c"/>
<rect x="344" y="363.6" width="4.00" height="2.6" fill="#2b2f8c"/>
<path d="M392.60,359.63 H398.00" stroke="#3a3a3a" stroke-width="0.72"/>
<path d="M391.40,359.63 L393.30,358.53 L393.30,360.73 Z" fill="#3a3a3a"/>
<text x="398.45" y="361.73" font-size="7.35" font-style="italic" fill="#303030">RBKS</text>
<line x1="383.4" y1="364.9" x2="430" y2="364.9" stroke="#4a56a8" stroke-width="0.8"/>
<rect x="383.2" y="363.5" width="0.8" height="2.8" fill="#2b2f8c"/>
<rect x="395.4" y="363.5" width="0.8" height="2.8" fill="#2b2f8c"/>
<rect x="402.1" y="363.5" width="0.8" height="2.8" fill="#2b2f8c"/>
<rect x="404.0" y="363.5" width="0.8" height="2.8" fill="#2b2f8c"/>
<rect x="409.1" y="363.5" width="0.8" height="2.8" fill="#2b2f8c"/>
<rect x="411" y="363.6" width="1.20" height="2.6" fill="#2b2f8c"/>
<rect x="415.8" y="363.5" width="0.8" height="2.8" fill="#2b2f8c"/>
<rect x="419.8" y="363.6" width="1.40" height="2.6" fill="#2b2f8c"/>
<rect x="423.6" y="363.5" width="0.8" height="2.8" fill="#2b2f8c"/>
<rect x="429.6" y="363.5" width="0.8" height="2.8" fill="#2b2f8c"/>
<text x="438.50" y="361.73" font-size="7.35" font-style="italic" fill="#303030">MIR4263</text>
<path d="M468.62,359.63 H474.02" stroke="#3a3a3a" stroke-width="0.72"/>
<path d="M475.22,359.63 L473.32,358.53 L473.32,360.73 Z" fill="#3a3a3a"/>
<rect x="472.9" y="363.5" width="0.8" height="2.8" fill="#2b2f8c"/>
<path d="M64.90,376.16 H70.30" stroke="#3a3a3a" stroke-width="0.72"/>
<path d="M63.70,376.16 L65.60,375.06 L65.60,377.26 Z" fill="#3a3a3a"/>
<text x="70.75" y="378.26" font-size="7.35" font-style="italic" fill="#303030">AC013472.3</text>
<rect x="61.3" y="380.2" width="1.70" height="2.6" fill="#2b2f8c"/>
<text x="142.70" y="378.26" font-size="7.35" font-style="italic" fill="#303030">CAD</text>
<path d="M158.52,376.16 H163.92" stroke="#3a3a3a" stroke-width="0.72"/>
<path d="M165.12,376.16 L163.22,375.06 L163.22,377.26 Z" fill="#3a3a3a"/>
<line x1="147.7" y1="381.5" x2="160.3" y2="381.5" stroke="#4a56a8" stroke-width="0.8"/>
<rect x="147.7" y="380.2" width="2.50" height="2.6" fill="#2b2f8c"/>
<rect x="151" y="380.2" width="1.60" height="2.6" fill="#2b2f8c"/>
<rect x="153.6" y="380.2" width="6.70" height="2.6" fill="#2b2f8c"/>
<path d="M184.20,376.16 H189.60" stroke="#3a3a3a" stroke-width="0.72"/>
<path d="M183.00,376.16 L184.90,375.06 L184.90,377.26 Z" fill="#3a3a3a"/>
<text x="190.05" y="378.26" font-size="7.35" font-style="italic" fill="#303030">GTF3C2</text>
<line x1="193.5" y1="381.5" x2="207.4" y2="381.5" stroke="#4a56a8" stroke-width="0.8"/>
<rect x="193.5" y="380.2" width="2.70" height="2.6" fill="#2b2f8c"/>
<rect x="197" y="380.2" width="1.60" height="2.6" fill="#2b2f8c"/>
<rect x="199.6" y="380.2" width="1.60" height="2.6" fill="#2b2f8c"/>
<rect x="203.1" y="380.1" width="0.8" height="2.8" fill="#2b2f8c"/>
<rect x="205.1" y="380.1" width="0.8" height="2.8" fill="#2b2f8c"/>
<rect x="206.8" y="380.1" width="0.8" height="2.8" fill="#2b2f8c"/>
<path d="M238.80,376.16 H244.20" stroke="#3a3a3a" stroke-width="0.72"/>
<path d="M237.60,376.16 L239.50,375.06 L239.50,377.26 Z" fill="#3a3a3a"/>
<text x="244.65" y="378.26" font-size="7.35" font-style="italic" fill="#303030">IFT172</text>
<line x1="243.1" y1="381.5" x2="262.8" y2="381.5" stroke="#4a56a8" stroke-width="0.8"/>
<rect x="243.1" y="380.2" width="7.90" height="2.6" fill="#2b2f8c"/>
<rect x="252" y="380.2" width="1.20" height="2.6" fill="#2b2f8c"/>
<rect x="254.2" y="380.2" width="3.60" height="2.6" fill="#2b2f8c"/>
<rect x="258.8" y="380.2" width="1.80" height="2.6" fill="#2b2f8c"/>
<rect x="262.2" y="380.1" width="0.8" height="2.8" fill="#2b2f8c"/>
<path d="M277.70,376.16 H283.10" stroke="#3a3a3a" stroke-width="0.72"/>
<path d="M276.50,376.16 L278.40,375.06 L278.40,377.26 Z" fill="#3a3a3a"/>
<text x="283.55" y="378.26" font-size="7.35" font-style="italic" fill="#303030">AC074091.1</text>
<rect x="299.9" y="380.1" width="0.8" height="2.8" fill="#2b2f8c"/>
<path d="M360.30,376.16 H365.70" stroke="#3a3a3a" stroke-width="0.72"/>
<path d="M359.10,376.16 L361.00,375.06 L361.00,377.26 Z" fill="#3a3a3a"/>
<text x="366.15" y="378.26" font-size="7.35" font-style="italic" fill="#303030">AC110084.1</text>
<line x1="381.5" y1="381.5" x2="386.2" y2="381.5" stroke="#4a56a8" stroke-width="0.8"/>
<rect x="381.2" y="380.1" width="0.8" height="2.8" fill="#2b2f8c"/>
<rect x="385.7" y="380.1" width="0.8" height="2.8" fill="#2b2f8c"/>
<text x="454.00" y="378.26" font-size="7.35" font-style="italic" fill="#303030">BRE</text>
<path d="M469.41,376.16 H474.81" stroke="#3a3a3a" stroke-width="0.72"/>
<path d="M476.01,376.16 L474.11,375.06 L474.11,377.26 Z" fill="#3a3a3a"/>
<line x1="429.5" y1="381.5" x2="477.9" y2="381.5" stroke="#4a56a8" stroke-width="0.8"/>
<rect x="429.2" y="380.2" width="2.60" height="2.6" fill="#2b2f8c"/>
<rect x="445.3" y="380.1" width="0.8" height="2.8" fill="#2b2f8c"/>
<rect x="469.8" y="380.1" width="0.8" height="2.8" fill="#2b2f8c"/>
<text x="64.20" y="394.79" font-size="7.35" font-style="italic" fill="#303030">TMEM214</text>
<path d="M98.40,392.69 H103.80" stroke="#3a3a3a" stroke-width="0.72"/>
<path d="M105.00,392.69 L103.10,391.59 L103.10,393.79 Z" fill="#3a3a3a"/>
<rect x="71" y="396.8" width="4.40" height="2.6" fill="#2b2f8c"/>
<path d="M149.60,392.69 H155.00" stroke="#3a3a3a" stroke-width="0.72"/>
<path d="M148.40,392.69 L150.30,391.59 L150.30,393.79 Z" fill="#3a3a3a"/>
<text x="155.45" y="394.79" font-size="7.35" font-style="italic" fill="#303030">SLC30A3</text>
<line x1="163.1" y1="398.1" x2="173.5" y2="398.1" stroke="#4a56a8" stroke-width="0.8"/>
<rect x="163.1" y="396.8" width="4.30" height="2.6" fill="#2b2f8c"/>
<rect x="168.4" y="396.8" width="1.20" height="2.6" fill="#2b2f8c"/>
<rect x="172.9" y="396.7" width="0.8" height="2.8" fill="#2b2f8c"/>
<text x="199.60" y="394.79" font-size="7.35" font-style="italic" fill="#303030">SNX17</text>
<path d="M223.19,392.69 H228.59" stroke="#3a3a3a" stroke-width="0.72"/>
<path d="M229.79,392.69 L227.89,391.59 L227.89,393.79 Z" fill="#3a3a3a"/>
<rect x="211.5" y="396.8" width="4.20" height="2.6" fill="#2b2f8c"/>
<text x="256.80" y="394.79" font-size="7.35" font-style="italic" fill="#303030">GCKR</text>
<path d="M278.34,392.69 H283.74" stroke="#3a3a3a" stroke-width="0.72"/>
<path d="M284.94,392.69 L283.04,391.59 L283.04,393.79 Z" fill="#3a3a3a"/>
<line x1="264.6" y1="398.1" x2="276.9" y2="398.1" stroke="#4a56a8" stroke-width="0.8"/>
<rect x="264.6" y="396.8" width="4.80" height="2.6" fill="#2b2f8c"/>
<rect x="270.2" y="396.8" width="1.60" height="2.6" fill="#2b2f8c"/>
<rect x="274.8" y="396.8" width="2.10" height="2.6" fill="#2b2f8c"/>
<path d="M300.30,392.69 H305.70" stroke="#3a3a3a" stroke-width="0.72"/>
<path d="M299.10,392.69 L301.00,391.59 L301.00,393.79 Z" fill="#3a3a3a"/>
<text x="306.15" y="394.79" font-size="7.35" font-style="italic" fill="#303030">CCDC121</text>
<rect x="318.6" y="396.8" width="1.20" height="2.6" fill="#2b2f8c"/>
<path d="M403.80,392.69 H409.20" stroke="#3a3a3a" stroke-width="0.72"/>
<path d="M402.60,392.69 L404.50,391.59 L404.50,393.79 Z" fill="#3a3a3a"/>
<text x="409.65" y="394.79" font-size="7.35" font-style="italic" fill="#303030">RP11–674I16.1</text>
<rect x="431.1" y="396.8" width="1.00" height="2.6" fill="#2b2f8c"/>
<text x="65.80" y="411.32" font-size="7.35" font-style="italic" fill="#303030">AGBL5</text>
<path d="M89.80,409.22 H95.20" stroke="#3a3a3a" stroke-width="0.72"/>
<path d="M96.40,409.22 L94.50,408.12 L94.50,410.32 Z" fill="#3a3a3a"/>
<line x1="75" y1="414.7" x2="87.7" y2="414.7" stroke="#4a56a8" stroke-width="0.8"/>
<rect x="74.8" y="413.3" width="0.8" height="2.8" fill="#2b2f8c"/>
<rect x="78" y="413.4" width="4.40" height="2.6" fill="#2b2f8c"/>
<rect x="83.2" y="413.4" width="1.20" height="2.6" fill="#2b2f8c"/>
<rect x="86" y="413.4" width="1.70" height="2.6" fill="#2b2f8c"/>
<text x="107.30" y="411.32" font-size="7.35" font-style="italic" fill="#303030">TCF23</text>
<path d="M130.06,409.22 H135.46" stroke="#3a3a3a" stroke-width="0.72"/>
<path d="M136.66,409.22 L134.76,408.12 L134.76,410.32 Z" fill="#3a3a3a"/>
<rect x="119.2" y="413.4" width="4.30" height="2.6" fill="#2b2f8c"/>
<text x="153.40" y="411.32" font-size="7.35" font-style="italic" fill="#303030">DNAJC5G</text>
<path d="M188.01,409.22 H193.41" stroke="#3a3a3a" stroke-width="0.72"/>
<path d="M194.61,409.22 L192.71,408.12 L192.71,410.32 Z" fill="#3a3a3a"/>
<rect x="172.9" y="413.4" width="1.80" height="2.6" fill="#2b2f8c"/>
<path d="M205.70,409.22 H211.10" stroke="#3a3a3a" stroke-width="0.72"/>
<path d="M204.50,409.22 L206.40,408.12 L206.40,410.32 Z" fill="#3a3a3a"/>
<text x="211.55" y="411.32" font-size="7.35" font-style="italic" fill="#303030">FTH1P3</text>
<rect x="221.1" y="413.3" width="0.8" height="2.8" fill="#2b2f8c"/>
<text x="282.70" y="411.32" font-size="7.35" font-style="italic" fill="#303030">RP11–158I13.2</text>
<path d="M334.08,409.22 H339.48" stroke="#3a3a3a" stroke-width="0.72"/>
<path d="M340.68,409.22 L338.78,408.12 L338.78,410.32 Z" fill="#3a3a3a"/>
<line x1="300.3" y1="414.7" x2="322.8" y2="414.7" stroke="#4a56a8" stroke-width="0.8"/>
<rect x="300.1" y="413.3" width="0.8" height="2.8" fill="#2b2f8c"/>
<rect x="307" y="413.4" width="2.80" height="2.6" fill="#2b2f8c"/>
<rect x="311.4" y="413.3" width="0.8" height="2.8" fill="#2b2f8c"/>
<rect x="313.5" y="413.4" width="2.30" height="2.6" fill="#2b2f8c"/>
<rect x="319.8" y="413.4" width="3.00" height="2.6" fill="#2b2f8c"/>
<path d="M65.70,425.75 H71.10" stroke="#3a3a3a" stroke-width="0.72"/>
<path d="M64.50,425.75 L66.40,424.65 L66.40,426.85 Z" fill="#3a3a3a"/>
<text x="71.55" y="427.85" font-size="7.35" font-style="italic" fill="#303030">AGBL5–AS1</text>
<rect x="78.1" y="429.9" width="0.8" height="2.8" fill="#2b2f8c"/>
<text x="165.00" y="427.85" font-size="7.35" font-style="italic" fill="#303030">TRIM54</text>
<path d="M191.44,425.75 H196.84" stroke="#3a3a3a" stroke-width="0.72"/>
<path d="M198.04,425.75 L196.14,424.65 L196.14,426.85 Z" fill="#3a3a3a"/>
<line x1="175.1" y1="431.3" x2="186.5" y2="431.3" stroke="#4a56a8" stroke-width="0.8"/>
<rect x="174.9" y="429.9" width="0.8" height="2.8" fill="#2b2f8c"/>
<rect x="180.5" y="430.0" width="1.50" height="2.6" fill="#2b2f8c"/>
<rect x="184.3" y="430.0" width="2.20" height="2.6" fill="#2b2f8c"/>
<text x="223.40" y="427.85" font-size="7.35" font-style="italic" fill="#303030">KRTCAP3</text>
<path d="M257.60,425.75 H263.00" stroke="#3a3a3a" stroke-width="0.72"/>
<path d="M264.20,425.75 L262.30,424.65 L262.30,426.85 Z" fill="#3a3a3a"/>
<rect x="242.2" y="430.0" width="1.80" height="2.6" fill="#2b2f8c"/>
<text x="311.10" y="427.85" font-size="7.35" font-style="italic" fill="#303030">GPN1</text>
<path d="M331.42,425.75 H336.82" stroke="#3a3a3a" stroke-width="0.72"/>
<path d="M338.02,425.75 L336.12,424.65 L336.12,426.85 Z" fill="#3a3a3a"/>
<line x1="319.7" y1="431.3" x2="330" y2="431.3" stroke="#4a56a8" stroke-width="0.8"/>
<rect x="319.7" y="430.0" width="4.90" height="2.6" fill="#2b2f8c"/>
<rect x="325.5" y="430.0" width="1.70" height="2.6" fill="#2b2f8c"/>
<rect x="328.6" y="430.0" width="1.40" height="2.6" fill="#2b2f8c"/>
<path d="M65.70,442.28 H71.10" stroke="#3a3a3a" stroke-width="0.72"/>
<path d="M64.50,442.28 L66.40,441.18 L66.40,443.38 Z" fill="#3a3a3a"/>
<text x="71.55" y="444.38" font-size="7.35" font-style="italic" fill="#303030">RP11–503P10.1</text>
<rect x="79.6" y="446.5" width="0.8" height="2.8" fill="#2b2f8c"/>
<text x="173.80" y="444.38" font-size="7.35" font-style="italic" fill="#303030">GTF3C2–AS1</text>
<path d="M220.26,442.28 H225.66" stroke="#3a3a3a" stroke-width="0.72"/>
<path d="M226.86,442.28 L224.96,441.18 L224.96,443.38 Z" fill="#3a3a3a"/>
<rect x="197.4" y="446.6" width="3.40" height="2.6" fill="#2b2f8c"/>
<path d="M306.50,442.28 H311.90" stroke="#3a3a3a" stroke-width="0.72"/>
<path d="M305.30,442.28 L307.20,441.18 L307.20,443.38 Z" fill="#3a3a3a"/>
<text x="312.35" y="444.38" font-size="7.35" font-style="italic" fill="#303030">SNORA36</text>
<rect x="325.0" y="446.5" width="0.8" height="2.8" fill="#2b2f8c"/>
<text x="64.20" y="460.91" font-size="7.35" font-style="italic" fill="#303030">AGBL5–IT1</text>
<path d="M102.90,458.81 H108.30" stroke="#3a3a3a" stroke-width="0.72"/>
<path d="M109.50,458.81 L107.60,457.71 L107.60,459.91 Z" fill="#3a3a3a"/>
<rect x="83.0" y="463.1" width="0.8" height="2.8" fill="#2b2f8c"/>
<text x="182.40" y="460.91" font-size="7.35" font-style="italic" fill="#303030">AC074117.10</text>
<path d="M227.65,458.81 H233.05" stroke="#3a3a3a" stroke-width="0.72"/>
<path d="M234.25,458.81 L232.35,457.71 L232.35,459.91 Z" fill="#3a3a3a"/>
<line x1="206.2" y1="464.5" x2="211.5" y2="464.5" stroke="#4a56a8" stroke-width="0.8"/>
<rect x="206.2" y="463.2" width="2.20" height="2.6" fill="#2b2f8c"/>
<rect x="210.9" y="463.1" width="0.8" height="2.8" fill="#2b2f8c"/>
<path d="M316.20,458.81 H321.60" stroke="#3a3a3a" stroke-width="0.72"/>
<path d="M315.00,458.81 L316.90,457.71 L316.90,459.91 Z" fill="#3a3a3a"/>
<text x="322.05" y="460.91" font-size="7.35" font-style="italic" fill="#303030">SUPT7L</text>
<rect x="329.2" y="463.2" width="5.40" height="2.6" fill="#2b2f8c"/>
<path d="M65.70,475.34 H71.10" stroke="#3a3a3a" stroke-width="0.72"/>
<path d="M64.50,475.34 L66.40,474.24 L66.40,476.44 Z" fill="#3a3a3a"/>
<text x="71.55" y="477.44" font-size="7.35" font-style="italic" fill="#303030">RP11–195B17.1</text>
<rect x="83.4" y="479.7" width="0.8" height="2.8" fill="#2b2f8c"/>
<path d="M197.30,475.34 H202.70" stroke="#3a3a3a" stroke-width="0.72"/>
<path d="M196.10,475.34 L198.00,474.24 L198.00,476.44 Z" fill="#3a3a3a"/>
<text x="203.15" y="477.44" font-size="7.35" font-style="italic" fill="#303030">EIF2B4</text>
<rect x="210.2" y="479.8" width="2.00" height="2.6" fill="#2b2f8c"/>
<path d="M333.10,475.34 H338.50" stroke="#3a3a3a" stroke-width="0.72"/>
<path d="M331.90,475.34 L333.80,474.24 L333.80,476.44 Z" fill="#3a3a3a"/>
<text x="338.95" y="477.44" font-size="7.35" font-style="italic" fill="#303030">LINC01460</text>
<line x1="352" y1="481.1" x2="356.9" y2="481.1" stroke="#4a56a8" stroke-width="0.8"/>
<rect x="352" y="479.8" width="2.20" height="2.6" fill="#2b2f8c"/>
<rect x="356.3" y="479.7" width="0.8" height="2.8" fill="#2b2f8c"/>
<path d="M74.90,491.87 H80.30" stroke="#3a3a3a" stroke-width="0.72"/>
<path d="M73.70,491.87 L75.60,490.77 L75.60,492.97 Z" fill="#3a3a3a"/>
<text x="80.75" y="493.97" font-size="7.35" font-style="italic" fill="#303030">OST4</text>
<rect x="87.0" y="496.3" width="0.8" height="2.8" fill="#2b2f8c"/>
<path d="M199.90,491.87 H205.30" stroke="#3a3a3a" stroke-width="0.72"/>
<path d="M198.70,491.87 L200.60,490.77 L200.60,492.97 Z" fill="#3a3a3a"/>
<text x="205.75" y="493.97" font-size="7.35" font-style="italic" fill="#303030">ZNF513</text>
<rect x="214.9" y="496.4" width="1.80" height="2.6" fill="#2b2f8c"/>
<rect x="0" y="0" width="520" height="1.05" fill="#000"/><rect x="0" y="0" width="1.1" height="537" fill="#000"/><rect x="518.85" y="0" width="1.15" height="537" fill="#000"/><rect x="0" y="535.45" width="520" height="1.55" fill="#000"/>
</svg>
</body></html>
